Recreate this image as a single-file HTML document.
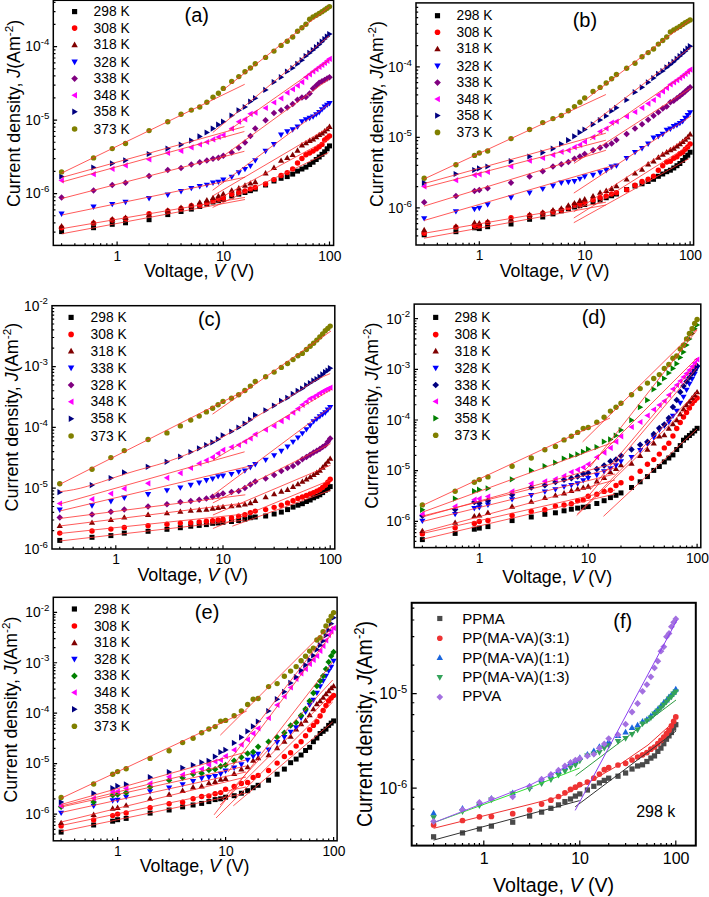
<!DOCTYPE html><html><head><meta charset="utf-8"><style>html,body{margin:0;padding:0;background:#fff;width:709px;height:897px;overflow:hidden}svg{display:block}</style></head><body>
<svg width="709" height="897" viewBox="0 0 709 897" font-family='"Liberation Sans", sans-serif' fill="#000">
<rect width="709" height="897" fill="#fff"/>
<rect x="59.09" y="229.12" width="4.97" height="4.97" fill="#000000"/>
<rect x="91.06" y="225.22" width="4.97" height="4.97" fill="#000000"/>
<rect x="109.76" y="221.82" width="4.97" height="4.97" fill="#000000"/>
<rect x="123.03" y="220.32" width="4.97" height="4.97" fill="#000000"/>
<rect x="146.59" y="217.22" width="4.97" height="4.97" fill="#000000"/>
<rect x="165.29" y="212.12" width="4.97" height="4.97" fill="#000000"/>
<rect x="178.55" y="209.02" width="4.97" height="4.97" fill="#000000"/>
<rect x="188.85" y="206.62" width="4.97" height="4.97" fill="#000000"/>
<rect x="197.26" y="204.02" width="4.97" height="4.97" fill="#000000"/>
<rect x="204.37" y="201.60" width="4.97" height="4.97" fill="#000000"/>
<rect x="210.52" y="199.52" width="4.97" height="4.97" fill="#000000"/>
<rect x="215.96" y="198.20" width="4.97" height="4.97" fill="#000000"/>
<rect x="220.82" y="197.02" width="4.97" height="4.97" fill="#000000"/>
<rect x="229.23" y="193.52" width="4.97" height="4.97" fill="#000000"/>
<rect x="236.33" y="191.64" width="4.97" height="4.97" fill="#000000"/>
<rect x="242.49" y="190.02" width="4.97" height="4.97" fill="#000000"/>
<rect x="247.93" y="188.17" width="4.97" height="4.97" fill="#000000"/>
<rect x="252.79" y="186.52" width="4.97" height="4.97" fill="#000000"/>
<rect x="263.08" y="182.52" width="4.97" height="4.97" fill="#000000"/>
<rect x="271.49" y="178.52" width="4.97" height="4.97" fill="#000000"/>
<rect x="278.60" y="175.82" width="4.97" height="4.97" fill="#000000"/>
<rect x="284.75" y="174.12" width="4.97" height="4.97" fill="#000000"/>
<rect x="290.19" y="171.62" width="4.97" height="4.97" fill="#000000"/>
<rect x="295.05" y="168.62" width="4.97" height="4.97" fill="#000000"/>
<rect x="299.44" y="166.52" width="4.97" height="4.97" fill="#000000"/>
<rect x="303.46" y="164.62" width="4.97" height="4.97" fill="#000000"/>
<rect x="307.15" y="162.07" width="4.97" height="4.97" fill="#000000"/>
<rect x="310.57" y="159.72" width="4.97" height="4.97" fill="#000000"/>
<rect x="313.75" y="157.03" width="4.97" height="4.97" fill="#000000"/>
<rect x="316.72" y="154.52" width="4.97" height="4.97" fill="#000000"/>
<rect x="319.52" y="151.84" width="4.97" height="4.97" fill="#000000"/>
<rect x="322.16" y="149.32" width="4.97" height="4.97" fill="#000000"/>
<rect x="324.65" y="146.29" width="4.97" height="4.97" fill="#000000"/>
<rect x="327.02" y="143.42" width="4.97" height="4.97" fill="#000000"/>
<circle cx="61.57" cy="227.70" r="2.70" fill="#ff0000"/>
<circle cx="93.54" cy="223.10" r="2.70" fill="#ff0000"/>
<circle cx="112.24" cy="220.00" r="2.70" fill="#ff0000"/>
<circle cx="125.51" cy="218.40" r="2.70" fill="#ff0000"/>
<circle cx="149.07" cy="213.80" r="2.70" fill="#ff0000"/>
<circle cx="167.77" cy="211.00" r="2.70" fill="#ff0000"/>
<circle cx="181.04" cy="208.40" r="2.70" fill="#ff0000"/>
<circle cx="191.33" cy="205.70" r="2.70" fill="#ff0000"/>
<circle cx="199.74" cy="205.10" r="2.70" fill="#ff0000"/>
<circle cx="206.85" cy="203.00" r="2.70" fill="#ff0000"/>
<circle cx="213.01" cy="200.90" r="2.70" fill="#ff0000"/>
<circle cx="218.44" cy="198.80" r="2.70" fill="#ff0000"/>
<circle cx="223.30" cy="198.00" r="2.70" fill="#ff0000"/>
<circle cx="231.71" cy="194.30" r="2.70" fill="#ff0000"/>
<circle cx="238.82" cy="192.40" r="2.70" fill="#ff0000"/>
<circle cx="244.98" cy="191.00" r="2.70" fill="#ff0000"/>
<circle cx="250.41" cy="188.90" r="2.70" fill="#ff0000"/>
<circle cx="255.27" cy="187.50" r="2.70" fill="#ff0000"/>
<circle cx="265.56" cy="184.00" r="2.70" fill="#ff0000"/>
<circle cx="273.97" cy="179.60" r="2.70" fill="#ff0000"/>
<circle cx="281.08" cy="175.50" r="2.70" fill="#ff0000"/>
<circle cx="287.24" cy="172.60" r="2.70" fill="#ff0000"/>
<circle cx="292.67" cy="168.90" r="2.70" fill="#ff0000"/>
<circle cx="297.53" cy="163.00" r="2.70" fill="#ff0000"/>
<circle cx="301.93" cy="158.50" r="2.70" fill="#ff0000"/>
<circle cx="305.94" cy="154.80" r="2.70" fill="#ff0000"/>
<circle cx="309.63" cy="153.00" r="2.70" fill="#ff0000"/>
<circle cx="313.05" cy="151.10" r="2.70" fill="#ff0000"/>
<circle cx="316.23" cy="148.90" r="2.70" fill="#ff0000"/>
<circle cx="319.21" cy="146.70" r="2.70" fill="#ff0000"/>
<circle cx="322.00" cy="144.40" r="2.70" fill="#ff0000"/>
<circle cx="324.64" cy="140.00" r="2.70" fill="#ff0000"/>
<circle cx="327.13" cy="138.00" r="2.70" fill="#ff0000"/>
<circle cx="329.50" cy="136.00" r="2.70" fill="#ff0000"/>
<path d="M61.57 223.09L64.68 228.49H58.47Z" fill="#800000"/>
<path d="M93.54 219.20L96.64 224.59H90.43Z" fill="#800000"/>
<path d="M112.24 216.09L115.35 221.49H109.14Z" fill="#800000"/>
<path d="M125.51 214.59L128.61 219.99H122.40Z" fill="#800000"/>
<path d="M149.07 211.50L152.17 216.89H145.96Z" fill="#800000"/>
<path d="M167.77 207.30L170.88 212.69H164.67Z" fill="#800000"/>
<path d="M181.04 204.50L184.14 209.89H177.93Z" fill="#800000"/>
<path d="M191.33 202.20L194.44 207.59H188.23Z" fill="#800000"/>
<path d="M199.74 199.20L202.84 204.59H196.63Z" fill="#800000"/>
<path d="M206.85 197.09L209.95 202.49H203.74Z" fill="#800000"/>
<path d="M213.01 194.70L216.11 200.09H209.90Z" fill="#800000"/>
<path d="M218.44 192.90L221.55 198.29H215.34Z" fill="#800000"/>
<path d="M223.30 190.80L226.41 196.19H220.20Z" fill="#800000"/>
<path d="M231.71 187.20L234.81 192.59H228.60Z" fill="#800000"/>
<path d="M238.82 185.09L241.92 190.49H235.71Z" fill="#800000"/>
<path d="M244.98 182.30L248.08 187.69H241.87Z" fill="#800000"/>
<path d="M250.41 180.20L253.51 185.59H247.30Z" fill="#800000"/>
<path d="M255.27 178.80L258.37 184.19H252.16Z" fill="#800000"/>
<path d="M265.56 170.09L268.67 175.49H262.46Z" fill="#800000"/>
<path d="M273.97 164.50L277.08 169.89H270.87Z" fill="#800000"/>
<path d="M281.08 157.40L284.19 162.79H277.98Z" fill="#800000"/>
<path d="M287.24 154.70L290.34 160.09H284.13Z" fill="#800000"/>
<path d="M292.67 151.70L295.78 157.09H289.57Z" fill="#800000"/>
<path d="M297.53 147.30L300.64 152.69H294.43Z" fill="#800000"/>
<path d="M301.93 142.09L305.03 147.49H298.82Z" fill="#800000"/>
<path d="M305.94 139.90L309.04 145.29H302.83Z" fill="#800000"/>
<path d="M309.63 137.59L312.74 142.99H306.53Z" fill="#800000"/>
<path d="M313.05 136.20L316.15 141.59H309.94Z" fill="#800000"/>
<path d="M316.23 133.90L319.34 139.29H313.13Z" fill="#800000"/>
<path d="M319.21 131.70L322.31 137.09H316.10Z" fill="#800000"/>
<path d="M322.00 130.20L325.11 135.59H318.90Z" fill="#800000"/>
<path d="M324.64 127.99L327.75 133.39H321.54Z" fill="#800000"/>
<path d="M327.13 125.89L330.24 131.29H324.03Z" fill="#800000"/>
<path d="M329.50 123.59L332.61 129.00H326.39Z" fill="#800000"/>
<path d="M61.57 216.91L64.68 211.51H58.47Z" fill="#0000ff"/>
<path d="M93.54 209.91L96.64 204.51H90.43Z" fill="#0000ff"/>
<path d="M112.24 207.30L115.35 201.91H109.14Z" fill="#0000ff"/>
<path d="M125.51 205.20L128.61 199.81H122.40Z" fill="#0000ff"/>
<path d="M149.07 201.41L152.17 196.01H145.96Z" fill="#0000ff"/>
<path d="M167.77 198.00L170.88 192.61H164.67Z" fill="#0000ff"/>
<path d="M181.04 194.41L184.14 189.01H177.93Z" fill="#0000ff"/>
<path d="M191.33 191.30L194.44 185.91H188.23Z" fill="#0000ff"/>
<path d="M199.74 189.41L202.84 184.01H196.63Z" fill="#0000ff"/>
<path d="M206.85 188.10L209.95 182.71H203.74Z" fill="#0000ff"/>
<path d="M213.01 185.91L216.11 180.51H209.90Z" fill="#0000ff"/>
<path d="M218.44 185.10L221.55 179.71H215.34Z" fill="#0000ff"/>
<path d="M223.30 182.91L226.41 177.51H220.20Z" fill="#0000ff"/>
<path d="M231.71 180.10L234.81 174.71H228.60Z" fill="#0000ff"/>
<path d="M238.82 175.70L241.92 170.31H235.71Z" fill="#0000ff"/>
<path d="M244.98 172.30L248.08 166.91H241.87Z" fill="#0000ff"/>
<path d="M250.41 169.10L253.51 163.71H247.30Z" fill="#0000ff"/>
<path d="M255.27 163.60L258.37 158.21H252.16Z" fill="#0000ff"/>
<path d="M265.56 154.20L268.67 148.81H262.46Z" fill="#0000ff"/>
<path d="M273.97 147.50L277.08 142.11H270.87Z" fill="#0000ff"/>
<path d="M281.08 137.91L284.19 132.51H277.98Z" fill="#0000ff"/>
<path d="M287.24 134.70L290.34 129.31H284.13Z" fill="#0000ff"/>
<path d="M292.67 132.70L295.78 127.30H289.57Z" fill="#0000ff"/>
<path d="M297.53 129.81L300.64 124.41H294.43Z" fill="#0000ff"/>
<path d="M301.93 124.61L305.03 119.20H298.82Z" fill="#0000ff"/>
<path d="M305.94 122.61L309.04 117.20H302.83Z" fill="#0000ff"/>
<path d="M309.63 121.15L312.74 115.75H306.53Z" fill="#0000ff"/>
<path d="M313.05 119.81L316.15 114.41H309.94Z" fill="#0000ff"/>
<path d="M316.23 117.58L319.34 112.18H313.13Z" fill="#0000ff"/>
<path d="M319.21 115.51L322.31 110.11H316.10Z" fill="#0000ff"/>
<path d="M322.00 112.62L325.11 107.22H318.90Z" fill="#0000ff"/>
<path d="M324.64 109.91L327.75 104.50H321.54Z" fill="#0000ff"/>
<path d="M327.13 108.11L330.24 102.71H324.03Z" fill="#0000ff"/>
<path d="M329.50 106.41L332.61 101.00H326.39Z" fill="#0000ff"/>
<path d="M61.57 194.26L64.81 197.50L61.57 200.74L58.33 197.50Z" fill="#800080"/>
<path d="M93.54 187.26L96.78 190.50L93.54 193.74L90.30 190.50Z" fill="#800080"/>
<path d="M112.24 181.86L115.48 185.10L112.24 188.34L109.00 185.10Z" fill="#800080"/>
<path d="M125.51 179.56L128.75 182.80L125.51 186.04L122.27 182.80Z" fill="#800080"/>
<path d="M149.07 172.86L152.31 176.10L149.07 179.34L145.83 176.10Z" fill="#800080"/>
<path d="M167.77 166.76L171.01 170.00L167.77 173.24L164.53 170.00Z" fill="#800080"/>
<path d="M181.04 164.76L184.28 168.00L181.04 171.24L177.80 168.00Z" fill="#800080"/>
<path d="M191.33 161.16L194.57 164.40L191.33 167.64L188.09 164.40Z" fill="#800080"/>
<path d="M199.74 159.06L202.98 162.30L199.74 165.54L196.50 162.30Z" fill="#800080"/>
<path d="M206.85 157.36L210.09 160.60L206.85 163.84L203.61 160.60Z" fill="#800080"/>
<path d="M213.01 155.56L216.25 158.80L213.01 162.04L209.77 158.80Z" fill="#800080"/>
<path d="M218.44 154.46L221.68 157.70L218.44 160.94L215.20 157.70Z" fill="#800080"/>
<path d="M223.30 152.56L226.54 155.80L223.30 159.04L220.06 155.80Z" fill="#800080"/>
<path d="M231.71 149.16L234.95 152.40L231.71 155.64L228.47 152.40Z" fill="#800080"/>
<path d="M238.82 144.56L242.06 147.80L238.82 151.04L235.58 147.80Z" fill="#800080"/>
<path d="M244.98 139.36L248.22 142.60L244.98 145.84L241.74 142.60Z" fill="#800080"/>
<path d="M250.41 132.76L253.65 136.00L250.41 139.24L247.17 136.00Z" fill="#800080"/>
<path d="M255.27 125.26L258.51 128.50L255.27 131.74L252.03 128.50Z" fill="#800080"/>
<path d="M265.56 117.06L268.80 120.30L265.56 123.54L262.32 120.30Z" fill="#800080"/>
<path d="M273.97 109.86L277.21 113.10L273.97 116.34L270.73 113.10Z" fill="#800080"/>
<path d="M281.08 107.06L284.32 110.30L281.08 113.54L277.84 110.30Z" fill="#800080"/>
<path d="M287.24 104.26L290.48 107.50L287.24 110.74L284.00 107.50Z" fill="#800080"/>
<path d="M292.67 100.76L295.91 104.00L292.67 107.24L289.43 104.00Z" fill="#800080"/>
<path d="M297.53 96.46L300.77 99.70L297.53 102.94L294.29 99.70Z" fill="#800080"/>
<path d="M301.93 94.36L305.17 97.60L301.93 100.84L298.69 97.60Z" fill="#800080"/>
<path d="M305.94 93.76L309.18 97.00L305.94 100.24L302.70 97.00Z" fill="#800080"/>
<path d="M309.63 90.16L312.87 93.40L309.63 96.64L306.39 93.40Z" fill="#800080"/>
<path d="M313.05 85.16L316.29 88.40L313.05 91.64L309.81 88.40Z" fill="#800080"/>
<path d="M316.23 82.27L319.47 85.51L316.23 88.75L312.99 85.51Z" fill="#800080"/>
<path d="M319.21 79.56L322.45 82.80L319.21 86.04L315.97 82.80Z" fill="#800080"/>
<path d="M322.00 78.12L325.24 81.36L322.00 84.60L318.76 81.36Z" fill="#800080"/>
<path d="M324.64 76.76L327.88 80.00L324.64 83.24L321.40 80.00Z" fill="#800080"/>
<path d="M327.13 75.32L330.37 78.56L327.13 81.80L323.89 78.56Z" fill="#800080"/>
<path d="M329.50 73.96L332.74 77.20L329.50 80.44L326.26 77.20Z" fill="#800080"/>
<path d="M58.47 180.40L63.87 177.30V183.50Z" fill="#ff00ff"/>
<path d="M90.43 174.20L95.83 171.09V177.30Z" fill="#ff00ff"/>
<path d="M109.14 168.80L114.54 165.70V171.91Z" fill="#ff00ff"/>
<path d="M122.40 165.40L127.80 162.30V168.50Z" fill="#ff00ff"/>
<path d="M145.96 159.50L151.36 156.40V162.60Z" fill="#ff00ff"/>
<path d="M164.67 153.00L170.07 149.90V156.10Z" fill="#ff00ff"/>
<path d="M177.93 151.00L183.33 147.90V154.10Z" fill="#ff00ff"/>
<path d="M188.23 147.40L193.63 144.30V150.50Z" fill="#ff00ff"/>
<path d="M196.63 144.50L202.03 141.40V147.60Z" fill="#ff00ff"/>
<path d="M203.74 142.00L209.14 138.90V145.10Z" fill="#ff00ff"/>
<path d="M209.90 139.40L215.30 136.30V142.50Z" fill="#ff00ff"/>
<path d="M215.34 137.00L220.74 133.90V140.10Z" fill="#ff00ff"/>
<path d="M220.20 135.00L225.59 131.90V138.10Z" fill="#ff00ff"/>
<path d="M228.60 128.60L234.00 125.49V131.70Z" fill="#ff00ff"/>
<path d="M235.71 121.70L241.11 118.59V124.81Z" fill="#ff00ff"/>
<path d="M241.87 119.30L247.27 116.19V122.41Z" fill="#ff00ff"/>
<path d="M247.30 113.80L252.70 110.69V116.91Z" fill="#ff00ff"/>
<path d="M252.16 112.60L257.56 109.49V115.70Z" fill="#ff00ff"/>
<path d="M262.46 108.00L267.86 104.89V111.11Z" fill="#ff00ff"/>
<path d="M270.87 102.50L276.27 99.39V105.61Z" fill="#ff00ff"/>
<path d="M277.98 98.30L283.38 95.19V101.41Z" fill="#ff00ff"/>
<path d="M284.13 92.70L289.53 89.59V95.81Z" fill="#ff00ff"/>
<path d="M289.57 89.20L294.97 86.09V92.31Z" fill="#ff00ff"/>
<path d="M294.43 85.60L299.83 82.49V88.70Z" fill="#ff00ff"/>
<path d="M298.82 82.10L304.22 78.99V85.20Z" fill="#ff00ff"/>
<path d="M302.83 77.20L308.23 74.09V80.31Z" fill="#ff00ff"/>
<path d="M306.53 74.30L311.93 71.19V77.41Z" fill="#ff00ff"/>
<path d="M309.94 71.50L315.34 68.39V74.61Z" fill="#ff00ff"/>
<path d="M313.13 69.17L318.53 66.07V72.28Z" fill="#ff00ff"/>
<path d="M316.10 67.00L321.50 63.90V70.11Z" fill="#ff00ff"/>
<path d="M318.90 64.94L324.30 61.84V68.05Z" fill="#ff00ff"/>
<path d="M321.54 63.00L326.94 59.90V66.11Z" fill="#ff00ff"/>
<path d="M324.03 60.84L329.43 57.74V63.95Z" fill="#ff00ff"/>
<path d="M326.39 58.80L331.80 55.70V61.90Z" fill="#ff00ff"/>
<path d="M64.68 176.50L59.28 173.40V179.60Z" fill="#000080"/>
<path d="M96.64 167.50L91.24 164.40V170.60Z" fill="#000080"/>
<path d="M115.35 163.40L109.95 160.30V166.50Z" fill="#000080"/>
<path d="M128.61 160.30L123.21 157.20V163.41Z" fill="#000080"/>
<path d="M152.17 154.00L146.77 150.90V157.10Z" fill="#000080"/>
<path d="M170.88 148.60L165.48 145.50V151.70Z" fill="#000080"/>
<path d="M184.14 144.70L178.74 141.59V147.80Z" fill="#000080"/>
<path d="M194.44 140.60L189.04 137.50V143.70Z" fill="#000080"/>
<path d="M202.84 136.40L197.44 133.30V139.50Z" fill="#000080"/>
<path d="M209.95 132.50L204.55 129.40V135.60Z" fill="#000080"/>
<path d="M216.11 128.60L210.71 125.49V131.70Z" fill="#000080"/>
<path d="M221.55 124.70L216.15 121.59V127.81Z" fill="#000080"/>
<path d="M226.41 121.70L221.01 118.59V124.81Z" fill="#000080"/>
<path d="M234.81 115.50L229.41 112.39V118.61Z" fill="#000080"/>
<path d="M241.92 110.30L236.52 107.19V113.41Z" fill="#000080"/>
<path d="M248.08 107.00L242.68 103.89V110.11Z" fill="#000080"/>
<path d="M253.51 101.60L248.11 98.49V104.70Z" fill="#000080"/>
<path d="M258.37 98.20L252.97 95.09V101.31Z" fill="#000080"/>
<path d="M268.67 89.90L263.27 86.80V93.01Z" fill="#000080"/>
<path d="M277.08 82.10L271.68 78.99V85.20Z" fill="#000080"/>
<path d="M284.19 77.20L278.79 74.09V80.31Z" fill="#000080"/>
<path d="M290.34 71.50L284.94 68.39V74.61Z" fill="#000080"/>
<path d="M295.78 68.00L290.38 64.89V71.11Z" fill="#000080"/>
<path d="M300.64 63.80L295.24 60.70V66.91Z" fill="#000080"/>
<path d="M305.03 60.20L299.63 57.10V63.30Z" fill="#000080"/>
<path d="M309.04 56.00L303.64 52.90V59.10Z" fill="#000080"/>
<path d="M312.74 52.88L307.34 49.78V55.99Z" fill="#000080"/>
<path d="M316.15 50.00L310.75 46.90V53.10Z" fill="#000080"/>
<path d="M319.34 47.16L313.94 44.05V50.26Z" fill="#000080"/>
<path d="M322.31 44.50L316.91 41.40V47.60Z" fill="#000080"/>
<path d="M325.11 41.67L319.71 38.56V44.77Z" fill="#000080"/>
<path d="M327.75 39.00L322.35 35.90V42.10Z" fill="#000080"/>
<path d="M330.24 36.49L324.84 33.38V39.59Z" fill="#000080"/>
<path d="M332.61 34.10L327.20 31.00V37.20Z" fill="#000080"/>
<circle cx="61.57" cy="171.90" r="2.70" fill="#808000"/>
<circle cx="93.54" cy="157.90" r="2.70" fill="#808000"/>
<circle cx="112.24" cy="148.60" r="2.70" fill="#808000"/>
<circle cx="125.51" cy="143.50" r="2.70" fill="#808000"/>
<circle cx="149.07" cy="130.60" r="2.70" fill="#808000"/>
<circle cx="167.77" cy="121.70" r="2.70" fill="#808000"/>
<circle cx="181.04" cy="114.30" r="2.70" fill="#808000"/>
<circle cx="191.33" cy="110.10" r="2.70" fill="#808000"/>
<circle cx="199.74" cy="107.00" r="2.70" fill="#808000"/>
<circle cx="206.85" cy="102.20" r="2.70" fill="#808000"/>
<circle cx="213.01" cy="97.20" r="2.70" fill="#808000"/>
<circle cx="218.44" cy="93.30" r="2.70" fill="#808000"/>
<circle cx="223.30" cy="88.40" r="2.70" fill="#808000"/>
<circle cx="231.71" cy="81.40" r="2.70" fill="#808000"/>
<circle cx="238.82" cy="76.60" r="2.70" fill="#808000"/>
<circle cx="244.98" cy="71.80" r="2.70" fill="#808000"/>
<circle cx="250.41" cy="68.00" r="2.70" fill="#808000"/>
<circle cx="255.27" cy="63.80" r="2.70" fill="#808000"/>
<circle cx="265.56" cy="57.40" r="2.70" fill="#808000"/>
<circle cx="273.97" cy="51.10" r="2.70" fill="#808000"/>
<circle cx="281.08" cy="45.40" r="2.70" fill="#808000"/>
<circle cx="287.24" cy="41.20" r="2.70" fill="#808000"/>
<circle cx="292.67" cy="37.00" r="2.70" fill="#808000"/>
<circle cx="297.53" cy="31.30" r="2.70" fill="#808000"/>
<circle cx="301.93" cy="27.80" r="2.70" fill="#808000"/>
<circle cx="305.94" cy="24.30" r="2.70" fill="#808000"/>
<circle cx="309.63" cy="19.30" r="2.70" fill="#808000"/>
<circle cx="313.05" cy="17.00" r="2.70" fill="#808000"/>
<circle cx="316.23" cy="15.19" r="2.70" fill="#808000"/>
<circle cx="319.21" cy="13.50" r="2.70" fill="#808000"/>
<circle cx="322.00" cy="11.70" r="2.70" fill="#808000"/>
<circle cx="324.64" cy="10.00" r="2.70" fill="#808000"/>
<circle cx="327.13" cy="8.26" r="2.70" fill="#808000"/>
<circle cx="329.50" cy="6.60" r="2.70" fill="#808000"/>
<line x1="61.8" y1="173" x2="244.7" y2="84.3" stroke="#ff3030" stroke-width="0.8"/>
<line x1="61.8" y1="177.5" x2="244.4" y2="126.6" stroke="#ff3030" stroke-width="0.8"/>
<line x1="61.8" y1="182" x2="244.4" y2="131.5" stroke="#ff3030" stroke-width="0.8"/>
<line x1="61.8" y1="198.5" x2="244.4" y2="151.3" stroke="#ff3030" stroke-width="0.8"/>
<line x1="61.8" y1="215" x2="245.1" y2="177.2" stroke="#ff3030" stroke-width="0.8"/>
<line x1="61.8" y1="228.7" x2="245" y2="197.4" stroke="#ff3030" stroke-width="0.8"/>
<line x1="61.8" y1="233.8" x2="245" y2="199.5" stroke="#ff3030" stroke-width="0.8"/>
<line x1="212.6" y1="207.5" x2="328.5" y2="152.6" stroke="#ff3030" stroke-width="0.8"/>
<line x1="212.6" y1="202" x2="329" y2="139" stroke="#ff3030" stroke-width="0.8"/>
<line x1="212.6" y1="196" x2="329" y2="127.5" stroke="#ff3030" stroke-width="0.8"/>
<line x1="212.6" y1="190.3" x2="329" y2="104" stroke="#ff3030" stroke-width="0.8"/>
<line x1="217.7" y1="160.2" x2="329" y2="79" stroke="#ff3030" stroke-width="0.8"/>
<line x1="228.6" y1="130.5" x2="329" y2="60" stroke="#ff3030" stroke-width="0.8"/>
<line x1="212.8" y1="132.5" x2="329" y2="36" stroke="#ff3030" stroke-width="0.8"/>
<line x1="223" y1="90" x2="329" y2="7" stroke="#ff3030" stroke-width="0.8"/>
<rect x="53.30" y="0.30" width="280.30" height="245.10" fill="none" stroke="#000" stroke-width="1.5"/>
<path d="M61.57 245.40v-2.20M74.84 245.40v-2.20M85.13 245.40v-2.20M93.54 245.40v-2.20M100.65 245.40v-2.20M106.81 245.40v-2.20M112.24 245.40v-2.20M117.10 245.40v-3.80M149.07 245.40v-2.20M167.77 245.40v-2.20M181.04 245.40v-2.20M191.33 245.40v-2.20M199.74 245.40v-2.20M206.85 245.40v-2.20M213.01 245.40v-2.20M218.44 245.40v-2.20M223.30 245.40v-3.80M255.27 245.40v-2.20M273.97 245.40v-2.20M287.24 245.40v-2.20M297.53 245.40v-2.20M305.94 245.40v-2.20M313.05 245.40v-2.20M319.21 245.40v-2.20M324.64 245.40v-2.20M329.50 245.40v-3.80M53.30 232.03h2.20M53.30 222.85h2.20M53.30 215.73h2.20M53.30 209.91h2.20M53.30 204.99h2.20M53.30 200.72h2.20M53.30 196.96h2.20M53.30 193.60h3.80M53.30 171.47h2.20M53.30 158.53h2.20M53.30 149.35h2.20M53.30 142.23h2.20M53.30 136.41h2.20M53.30 131.49h2.20M53.30 127.22h2.20M53.30 123.46h2.20M53.30 120.10h3.80M53.30 97.97h2.20M53.30 85.03h2.20M53.30 75.85h2.20M53.30 68.73h2.20M53.30 62.91h2.20M53.30 57.99h2.20M53.30 53.72h2.20M53.30 49.96h2.20M53.30 46.60h3.80M53.30 24.47h2.20M53.30 11.53h2.20M53.30 2.35h2.20" stroke="#000" stroke-width="1.2" fill="none"/>
<text x="117.40" y="260.50" font-size="13.8" text-anchor="middle">1</text>
<text x="223.60" y="260.50" font-size="13.8" text-anchor="middle">10</text>
<text x="329.80" y="260.50" font-size="13.8" text-anchor="middle">100</text>
<text x="40.70" y="51.40" font-size="13.8" text-anchor="end">10</text>
<text x="40.70" y="45.30" font-size="9.7">-4</text>
<text x="40.70" y="124.90" font-size="13.8" text-anchor="end">10</text>
<text x="40.70" y="118.80" font-size="9.7">-5</text>
<text x="40.70" y="198.40" font-size="13.8" text-anchor="end">10</text>
<text x="40.70" y="192.30" font-size="9.7">-6</text>
<text x="143.90" y="277" font-size="18.5" textLength="110.20" lengthAdjust="spacingAndGlyphs">Voltage, <tspan font-style="italic">V</tspan> (V)</text>
<text transform="translate(20.3,207.00) rotate(-90)" font-size="17.95" textLength="187.20" lengthAdjust="spacingAndGlyphs">Current density, <tspan font-style="italic">J</tspan>(Am<tspan font-size="11.8" dy="-6.82">-2</tspan><tspan dy="6.82">)</tspan></text>
<text x="196.7" y="22.4" font-size="20" text-anchor="middle">(a)</text>
<rect x="72.02" y="9.02" width="5.15" height="5.15" fill="#000000"/>
<text x="93.60" y="16.10" font-size="13.8">298 K</text>
<circle cx="74.60" cy="28.10" r="2.80" fill="#ff0000"/>
<text x="93.60" y="32.60" font-size="13.8">308 K</text>
<path d="M74.60 41.58L77.82 47.18H71.38Z" fill="#800000"/>
<text x="93.60" y="49.30" font-size="13.8">318 K</text>
<path d="M74.60 65.22L77.82 59.62H71.38Z" fill="#0000ff"/>
<text x="93.60" y="66.50" font-size="13.8">328 K</text>
<path d="M74.60 75.24L77.96 78.60L74.60 81.96L71.24 78.60Z" fill="#800080"/>
<text x="93.60" y="83.10" font-size="13.8">338 K</text>
<path d="M71.38 95.20L76.98 91.98V98.42Z" fill="#ff00ff"/>
<text x="93.60" y="99.70" font-size="13.8">348 K</text>
<path d="M77.82 111.80L72.22 108.58V115.02Z" fill="#000080"/>
<text x="93.60" y="116.30" font-size="13.8">358 K</text>
<circle cx="74.60" cy="129.00" r="2.80" fill="#808000"/>
<text x="93.60" y="133.50" font-size="13.8">373 K</text>
<rect x="421.70" y="232.32" width="4.97" height="4.97" fill="#000000"/>
<rect x="453.43" y="229.22" width="4.97" height="4.97" fill="#000000"/>
<rect x="471.99" y="225.32" width="4.97" height="4.97" fill="#000000"/>
<rect x="476.82" y="226.12" width="4.97" height="4.97" fill="#000000"/>
<rect x="485.16" y="224.22" width="4.97" height="4.97" fill="#000000"/>
<rect x="508.54" y="221.52" width="4.97" height="4.97" fill="#000000"/>
<rect x="527.10" y="216.82" width="4.97" height="4.97" fill="#000000"/>
<rect x="540.27" y="214.52" width="4.97" height="4.97" fill="#000000"/>
<rect x="550.49" y="211.42" width="4.97" height="4.97" fill="#000000"/>
<rect x="558.83" y="208.32" width="4.97" height="4.97" fill="#000000"/>
<rect x="565.89" y="206.28" width="4.97" height="4.97" fill="#000000"/>
<rect x="572.00" y="204.52" width="4.97" height="4.97" fill="#000000"/>
<rect x="577.39" y="203.20" width="4.97" height="4.97" fill="#000000"/>
<rect x="582.22" y="202.02" width="4.97" height="4.97" fill="#000000"/>
<rect x="590.56" y="199.58" width="4.97" height="4.97" fill="#000000"/>
<rect x="597.62" y="197.52" width="4.97" height="4.97" fill="#000000"/>
<rect x="603.73" y="195.27" width="4.97" height="4.97" fill="#000000"/>
<rect x="609.12" y="193.29" width="4.97" height="4.97" fill="#000000"/>
<rect x="613.94" y="191.52" width="4.97" height="4.97" fill="#000000"/>
<rect x="624.16" y="187.02" width="4.97" height="4.97" fill="#000000"/>
<rect x="632.50" y="183.52" width="4.97" height="4.97" fill="#000000"/>
<rect x="639.56" y="181.32" width="4.97" height="4.97" fill="#000000"/>
<rect x="645.67" y="179.02" width="4.97" height="4.97" fill="#000000"/>
<rect x="651.06" y="176.82" width="4.97" height="4.97" fill="#000000"/>
<rect x="655.89" y="173.82" width="4.97" height="4.97" fill="#000000"/>
<rect x="660.25" y="171.52" width="4.97" height="4.97" fill="#000000"/>
<rect x="664.23" y="169.22" width="4.97" height="4.97" fill="#000000"/>
<rect x="667.90" y="167.72" width="4.97" height="4.97" fill="#000000"/>
<rect x="671.29" y="165.52" width="4.97" height="4.97" fill="#000000"/>
<rect x="674.45" y="163.22" width="4.97" height="4.97" fill="#000000"/>
<rect x="677.40" y="161.02" width="4.97" height="4.97" fill="#000000"/>
<rect x="680.18" y="158.02" width="4.97" height="4.97" fill="#000000"/>
<rect x="682.79" y="154.92" width="4.97" height="4.97" fill="#000000"/>
<rect x="685.27" y="152.72" width="4.97" height="4.97" fill="#000000"/>
<rect x="687.62" y="149.72" width="4.97" height="4.97" fill="#000000"/>
<circle cx="424.19" cy="233.30" r="2.70" fill="#ff0000"/>
<circle cx="455.92" cy="227.10" r="2.70" fill="#ff0000"/>
<circle cx="474.48" cy="225.50" r="2.70" fill="#ff0000"/>
<circle cx="479.30" cy="225.50" r="2.70" fill="#ff0000"/>
<circle cx="487.65" cy="222.40" r="2.70" fill="#ff0000"/>
<circle cx="511.03" cy="217.80" r="2.70" fill="#ff0000"/>
<circle cx="529.59" cy="215.40" r="2.70" fill="#ff0000"/>
<circle cx="542.76" cy="213.10" r="2.70" fill="#ff0000"/>
<circle cx="552.97" cy="211.50" r="2.70" fill="#ff0000"/>
<circle cx="561.32" cy="210.00" r="2.70" fill="#ff0000"/>
<circle cx="568.37" cy="207.70" r="2.70" fill="#ff0000"/>
<circle cx="574.49" cy="204.60" r="2.70" fill="#ff0000"/>
<circle cx="579.88" cy="203.80" r="2.70" fill="#ff0000"/>
<circle cx="584.70" cy="202.20" r="2.70" fill="#ff0000"/>
<circle cx="593.05" cy="199.90" r="2.70" fill="#ff0000"/>
<circle cx="600.10" cy="197.50" r="2.70" fill="#ff0000"/>
<circle cx="606.21" cy="196.00" r="2.70" fill="#ff0000"/>
<circle cx="611.61" cy="194.00" r="2.70" fill="#ff0000"/>
<circle cx="616.43" cy="192.80" r="2.70" fill="#ff0000"/>
<circle cx="626.64" cy="189.80" r="2.70" fill="#ff0000"/>
<circle cx="634.99" cy="185.30" r="2.70" fill="#ff0000"/>
<circle cx="642.04" cy="181.50" r="2.70" fill="#ff0000"/>
<circle cx="648.16" cy="179.30" r="2.70" fill="#ff0000"/>
<circle cx="653.55" cy="176.30" r="2.70" fill="#ff0000"/>
<circle cx="658.37" cy="170.20" r="2.70" fill="#ff0000"/>
<circle cx="662.73" cy="165.70" r="2.70" fill="#ff0000"/>
<circle cx="666.72" cy="162.00" r="2.70" fill="#ff0000"/>
<circle cx="670.38" cy="161.20" r="2.70" fill="#ff0000"/>
<circle cx="673.77" cy="158.20" r="2.70" fill="#ff0000"/>
<circle cx="676.93" cy="156.70" r="2.70" fill="#ff0000"/>
<circle cx="679.89" cy="153.70" r="2.70" fill="#ff0000"/>
<circle cx="682.66" cy="152.20" r="2.70" fill="#ff0000"/>
<circle cx="685.28" cy="149.20" r="2.70" fill="#ff0000"/>
<circle cx="687.75" cy="146.90" r="2.70" fill="#ff0000"/>
<circle cx="690.10" cy="143.90" r="2.70" fill="#ff0000"/>
<path d="M424.19 226.80L427.29 232.19H421.08Z" fill="#800000"/>
<path d="M455.92 223.20L459.02 228.59H452.81Z" fill="#800000"/>
<path d="M474.48 219.59L477.58 224.99H471.37Z" fill="#800000"/>
<path d="M479.30 220.09L482.41 225.49H476.19Z" fill="#800000"/>
<path d="M487.65 218.50L490.75 223.89H484.54Z" fill="#800000"/>
<path d="M511.03 216.20L514.13 221.59H507.92Z" fill="#800000"/>
<path d="M529.59 211.50L532.69 216.89H526.48Z" fill="#800000"/>
<path d="M542.76 209.20L545.86 214.59H539.65Z" fill="#800000"/>
<path d="M552.97 206.90L556.08 212.29H549.87Z" fill="#800000"/>
<path d="M561.32 205.30L564.42 210.69H558.21Z" fill="#800000"/>
<path d="M568.37 202.20L571.48 207.59H565.27Z" fill="#800000"/>
<path d="M574.49 199.90L577.59 205.29H571.38Z" fill="#800000"/>
<path d="M579.88 197.59L582.98 202.99H576.77Z" fill="#800000"/>
<path d="M584.70 196.00L587.81 201.39H581.60Z" fill="#800000"/>
<path d="M593.05 192.90L596.15 198.29H589.94Z" fill="#800000"/>
<path d="M600.10 189.40L603.21 194.79H597.00Z" fill="#800000"/>
<path d="M606.21 187.50L609.32 192.89H603.11Z" fill="#800000"/>
<path d="M611.61 185.59L614.71 190.99H608.50Z" fill="#800000"/>
<path d="M616.43 182.90L619.53 188.29H613.32Z" fill="#800000"/>
<path d="M626.64 176.20L629.75 181.59H623.54Z" fill="#800000"/>
<path d="M634.99 170.20L638.09 175.59H631.88Z" fill="#800000"/>
<path d="M642.04 166.40L645.15 171.79H638.94Z" fill="#800000"/>
<path d="M648.16 161.09L651.26 166.49H645.05Z" fill="#800000"/>
<path d="M653.55 158.09L656.65 163.49H650.44Z" fill="#800000"/>
<path d="M658.37 154.30L661.48 159.69H655.27Z" fill="#800000"/>
<path d="M662.73 151.30L665.84 156.69H659.63Z" fill="#800000"/>
<path d="M666.72 149.09L669.82 154.49H663.61Z" fill="#800000"/>
<path d="M670.38 146.80L673.49 152.19H667.28Z" fill="#800000"/>
<path d="M673.77 145.30L676.88 150.69H670.67Z" fill="#800000"/>
<path d="M676.93 143.00L680.04 148.39H673.83Z" fill="#800000"/>
<path d="M679.89 140.80L682.99 146.19H676.78Z" fill="#800000"/>
<path d="M682.66 138.50L685.77 143.89H679.56Z" fill="#800000"/>
<path d="M685.28 136.30L688.38 141.69H682.17Z" fill="#800000"/>
<path d="M687.75 134.00L690.86 139.39H684.65Z" fill="#800000"/>
<path d="M690.10 131.00L693.21 136.39H687.00Z" fill="#800000"/>
<path d="M424.19 221.60L427.29 216.21H421.08Z" fill="#0000ff"/>
<path d="M455.92 214.60L459.02 209.21H452.81Z" fill="#0000ff"/>
<path d="M474.48 212.30L477.58 206.91H471.37Z" fill="#0000ff"/>
<path d="M479.30 211.20L482.41 205.81H476.19Z" fill="#0000ff"/>
<path d="M487.65 207.70L490.75 202.31H484.54Z" fill="#0000ff"/>
<path d="M511.03 200.70L514.13 195.31H507.92Z" fill="#0000ff"/>
<path d="M529.59 196.00L532.69 190.61H526.48Z" fill="#0000ff"/>
<path d="M542.76 192.10L545.86 186.71H539.65Z" fill="#0000ff"/>
<path d="M552.97 189.00L556.08 183.61H549.87Z" fill="#0000ff"/>
<path d="M561.32 185.91L564.42 180.51H558.21Z" fill="#0000ff"/>
<path d="M568.37 185.20L571.48 179.81H565.27Z" fill="#0000ff"/>
<path d="M574.49 184.41L577.59 179.01H571.38Z" fill="#0000ff"/>
<path d="M579.88 182.10L582.98 176.71H576.77Z" fill="#0000ff"/>
<path d="M584.70 179.70L587.81 174.31H581.60Z" fill="#0000ff"/>
<path d="M593.05 178.20L596.15 172.81H589.94Z" fill="#0000ff"/>
<path d="M600.10 175.70L603.21 170.31H597.00Z" fill="#0000ff"/>
<path d="M606.21 173.41L609.32 168.01H603.11Z" fill="#0000ff"/>
<path d="M611.61 169.91L614.71 164.51H608.50Z" fill="#0000ff"/>
<path d="M616.43 168.80L619.53 163.41H613.32Z" fill="#0000ff"/>
<path d="M626.64 161.30L629.75 155.91H623.54Z" fill="#0000ff"/>
<path d="M634.99 155.30L638.09 149.91H631.88Z" fill="#0000ff"/>
<path d="M642.04 151.50L645.15 146.11H638.94Z" fill="#0000ff"/>
<path d="M648.16 147.00L651.26 141.61H645.05Z" fill="#0000ff"/>
<path d="M653.55 141.00L656.65 135.61H650.44Z" fill="#0000ff"/>
<path d="M658.37 139.50L661.48 134.11H655.27Z" fill="#0000ff"/>
<path d="M662.73 137.20L665.84 131.81H659.63Z" fill="#0000ff"/>
<path d="M666.72 133.10L669.82 127.70H663.61Z" fill="#0000ff"/>
<path d="M670.38 131.91L673.49 126.51H667.28Z" fill="#0000ff"/>
<path d="M673.77 129.50L676.88 124.11H670.67Z" fill="#0000ff"/>
<path d="M676.93 128.20L680.04 122.80H673.83Z" fill="#0000ff"/>
<path d="M679.89 126.31L682.99 120.91H676.78Z" fill="#0000ff"/>
<path d="M682.66 124.41L685.77 119.00H679.56Z" fill="#0000ff"/>
<path d="M685.28 121.11L688.38 115.70H682.17Z" fill="#0000ff"/>
<path d="M687.75 118.41L690.86 113.00H684.65Z" fill="#0000ff"/>
<path d="M690.10 115.61L693.21 110.20H687.00Z" fill="#0000ff"/>
<path d="M424.19 198.96L427.43 202.20L424.19 205.44L420.95 202.20Z" fill="#800080"/>
<path d="M455.92 192.76L459.16 196.00L455.92 199.24L452.68 196.00Z" fill="#800080"/>
<path d="M474.48 187.86L477.72 191.10L474.48 194.34L471.24 191.10Z" fill="#800080"/>
<path d="M479.30 186.86L482.54 190.10L479.30 193.34L476.06 190.10Z" fill="#800080"/>
<path d="M487.65 185.06L490.89 188.30L487.65 191.54L484.41 188.30Z" fill="#800080"/>
<path d="M511.03 179.56L514.27 182.80L511.03 186.04L507.79 182.80Z" fill="#800080"/>
<path d="M529.59 173.36L532.83 176.60L529.59 179.84L526.35 176.60Z" fill="#800080"/>
<path d="M542.76 167.96L546.00 171.20L542.76 174.44L539.52 171.20Z" fill="#800080"/>
<path d="M552.97 163.26L556.21 166.50L552.97 169.74L549.73 166.50Z" fill="#800080"/>
<path d="M561.32 160.96L564.56 164.20L561.32 167.44L558.08 164.20Z" fill="#800080"/>
<path d="M568.37 158.66L571.61 161.90L568.37 165.14L565.13 161.90Z" fill="#800080"/>
<path d="M574.49 155.56L577.73 158.80L574.49 162.04L571.25 158.80Z" fill="#800080"/>
<path d="M579.88 153.26L583.12 156.50L579.88 159.74L576.64 156.50Z" fill="#800080"/>
<path d="M584.70 150.86L587.94 154.10L584.70 157.34L581.46 154.10Z" fill="#800080"/>
<path d="M593.05 147.06L596.29 150.30L593.05 153.54L589.81 150.30Z" fill="#800080"/>
<path d="M600.10 144.56L603.34 147.80L600.10 151.04L596.86 147.80Z" fill="#800080"/>
<path d="M606.21 142.26L609.45 145.50L606.21 148.74L602.97 145.50Z" fill="#800080"/>
<path d="M611.61 140.26L614.85 143.50L611.61 146.74L608.37 143.50Z" fill="#800080"/>
<path d="M616.43 136.86L619.67 140.10L616.43 143.34L613.19 140.10Z" fill="#800080"/>
<path d="M626.64 130.86L629.88 134.10L626.64 137.34L623.40 134.10Z" fill="#800080"/>
<path d="M634.99 125.36L638.23 128.60L634.99 131.84L631.75 128.60Z" fill="#800080"/>
<path d="M642.04 120.96L645.28 124.20L642.04 127.44L638.80 124.20Z" fill="#800080"/>
<path d="M648.16 116.56L651.40 119.80L648.16 123.04L644.92 119.80Z" fill="#800080"/>
<path d="M653.55 112.56L656.79 115.80L653.55 119.04L650.31 115.80Z" fill="#800080"/>
<path d="M658.37 108.96L661.61 112.20L658.37 115.44L655.13 112.20Z" fill="#800080"/>
<path d="M662.73 105.26L665.97 108.50L662.73 111.74L659.49 108.50Z" fill="#800080"/>
<path d="M666.72 103.16L669.96 106.40L666.72 109.64L663.48 106.40Z" fill="#800080"/>
<path d="M670.38 98.96L673.62 102.20L670.38 105.44L667.14 102.20Z" fill="#800080"/>
<path d="M673.77 97.46L677.01 100.70L673.77 103.94L670.53 100.70Z" fill="#800080"/>
<path d="M676.93 95.03L680.17 98.27L676.93 101.51L673.69 98.27Z" fill="#800080"/>
<path d="M679.89 92.76L683.13 96.00L679.89 99.24L676.65 96.00Z" fill="#800080"/>
<path d="M682.66 90.44L685.90 93.68L682.66 96.92L679.42 93.68Z" fill="#800080"/>
<path d="M685.28 88.26L688.52 91.50L685.28 94.74L682.04 91.50Z" fill="#800080"/>
<path d="M687.75 86.10L690.99 89.34L687.75 92.58L684.51 89.34Z" fill="#800080"/>
<path d="M690.10 84.06L693.34 87.30L690.10 90.54L686.86 87.30Z" fill="#800080"/>
<path d="M421.08 186.40L426.48 183.30V189.50Z" fill="#ff00ff"/>
<path d="M452.81 180.20L458.21 177.09V183.30Z" fill="#ff00ff"/>
<path d="M471.37 175.10L476.77 172.00V178.20Z" fill="#ff00ff"/>
<path d="M476.19 174.30L481.60 171.20V177.41Z" fill="#ff00ff"/>
<path d="M484.54 172.00L489.94 168.90V175.10Z" fill="#ff00ff"/>
<path d="M507.92 166.50L513.32 163.40V169.60Z" fill="#ff00ff"/>
<path d="M526.48 160.70L531.88 157.59V163.80Z" fill="#ff00ff"/>
<path d="M539.65 158.00L545.05 154.90V161.10Z" fill="#ff00ff"/>
<path d="M549.87 154.90L555.27 151.80V158.00Z" fill="#ff00ff"/>
<path d="M558.21 151.80L563.61 148.70V154.91Z" fill="#ff00ff"/>
<path d="M565.27 150.30L570.67 147.20V153.41Z" fill="#ff00ff"/>
<path d="M571.38 147.20L576.78 144.09V150.30Z" fill="#ff00ff"/>
<path d="M576.77 144.80L582.17 141.70V147.91Z" fill="#ff00ff"/>
<path d="M581.60 141.70L587.00 138.59V144.80Z" fill="#ff00ff"/>
<path d="M589.94 137.10L595.34 134.00V140.20Z" fill="#ff00ff"/>
<path d="M597.00 131.50L602.40 128.40V134.60Z" fill="#ff00ff"/>
<path d="M603.11 128.50L608.51 125.39V131.60Z" fill="#ff00ff"/>
<path d="M608.50 122.70L613.90 119.59V125.81Z" fill="#ff00ff"/>
<path d="M613.32 121.50L618.72 118.39V124.61Z" fill="#ff00ff"/>
<path d="M623.54 116.50L628.94 113.39V119.61Z" fill="#ff00ff"/>
<path d="M631.88 112.00L637.28 108.89V115.11Z" fill="#ff00ff"/>
<path d="M638.94 107.80L644.34 104.69V110.91Z" fill="#ff00ff"/>
<path d="M645.05 103.60L650.45 100.49V106.70Z" fill="#ff00ff"/>
<path d="M650.44 100.00L655.84 96.89V103.11Z" fill="#ff00ff"/>
<path d="M655.27 95.10L660.67 91.99V98.20Z" fill="#ff00ff"/>
<path d="M659.63 91.50L665.03 88.39V94.61Z" fill="#ff00ff"/>
<path d="M663.61 88.00L669.01 84.89V91.11Z" fill="#ff00ff"/>
<path d="M667.28 84.40L672.68 81.30V87.51Z" fill="#ff00ff"/>
<path d="M670.67 82.30L676.07 79.19V85.41Z" fill="#ff00ff"/>
<path d="M673.83 80.08L679.23 76.97V83.18Z" fill="#ff00ff"/>
<path d="M676.78 78.00L682.18 74.89V81.11Z" fill="#ff00ff"/>
<path d="M679.56 75.84L684.96 72.73V78.94Z" fill="#ff00ff"/>
<path d="M682.17 73.80L687.57 70.69V76.91Z" fill="#ff00ff"/>
<path d="M684.65 71.64L690.05 68.54V74.75Z" fill="#ff00ff"/>
<path d="M687.00 69.60L692.39 66.49V72.70Z" fill="#ff00ff"/>
<path d="M427.29 182.80L421.89 179.70V185.91Z" fill="#000080"/>
<path d="M459.02 174.00L453.62 170.90V177.10Z" fill="#000080"/>
<path d="M477.58 170.00L472.18 166.90V173.10Z" fill="#000080"/>
<path d="M482.41 168.40L477.00 165.30V171.50Z" fill="#000080"/>
<path d="M490.75 166.50L485.35 163.40V169.60Z" fill="#000080"/>
<path d="M514.13 161.10L508.73 158.00V164.20Z" fill="#000080"/>
<path d="M532.69 156.50L527.29 153.40V159.60Z" fill="#000080"/>
<path d="M545.86 152.60L540.46 149.50V155.70Z" fill="#000080"/>
<path d="M556.08 148.70L550.68 145.59V151.80Z" fill="#000080"/>
<path d="M564.42 144.00L559.02 140.90V147.10Z" fill="#000080"/>
<path d="M571.48 140.20L566.08 137.09V143.30Z" fill="#000080"/>
<path d="M577.59 136.30L572.19 133.20V139.41Z" fill="#000080"/>
<path d="M582.98 132.40L577.58 129.30V135.50Z" fill="#000080"/>
<path d="M587.81 129.50L582.41 126.39V132.60Z" fill="#000080"/>
<path d="M596.15 124.30L590.75 121.19V127.41Z" fill="#000080"/>
<path d="M603.21 120.00L597.81 116.89V123.11Z" fill="#000080"/>
<path d="M609.32 116.00L603.92 112.89V119.11Z" fill="#000080"/>
<path d="M614.71 111.00L609.31 107.89V114.11Z" fill="#000080"/>
<path d="M619.53 107.80L614.13 104.69V110.91Z" fill="#000080"/>
<path d="M629.75 100.00L624.35 96.89V103.11Z" fill="#000080"/>
<path d="M638.09 92.20L632.69 89.09V95.31Z" fill="#000080"/>
<path d="M645.15 87.30L639.75 84.19V90.41Z" fill="#000080"/>
<path d="M651.26 82.30L645.86 79.19V85.41Z" fill="#000080"/>
<path d="M656.65 78.10L651.25 74.99V81.20Z" fill="#000080"/>
<path d="M661.48 73.80L656.08 70.69V76.91Z" fill="#000080"/>
<path d="M665.84 71.00L660.44 67.89V74.11Z" fill="#000080"/>
<path d="M669.82 67.40L664.42 64.30V70.51Z" fill="#000080"/>
<path d="M673.49 64.60L668.09 61.49V67.70Z" fill="#000080"/>
<path d="M676.88 61.80L671.48 58.70V64.91Z" fill="#000080"/>
<path d="M680.04 58.85L674.64 55.75V61.96Z" fill="#000080"/>
<path d="M682.99 56.10L677.59 53.00V59.20Z" fill="#000080"/>
<path d="M685.77 53.58L680.37 50.47V56.68Z" fill="#000080"/>
<path d="M688.38 51.20L682.98 48.10V54.30Z" fill="#000080"/>
<path d="M690.86 48.63L685.46 45.53V51.74Z" fill="#000080"/>
<path d="M693.21 46.20L687.81 43.10V49.30Z" fill="#000080"/>
<circle cx="424.19" cy="178.20" r="2.70" fill="#808000"/>
<circle cx="455.92" cy="164.70" r="2.70" fill="#808000"/>
<circle cx="474.48" cy="155.40" r="2.70" fill="#808000"/>
<circle cx="479.30" cy="153.00" r="2.70" fill="#808000"/>
<circle cx="487.65" cy="151.00" r="2.70" fill="#808000"/>
<circle cx="511.03" cy="138.60" r="2.70" fill="#808000"/>
<circle cx="529.59" cy="129.50" r="2.70" fill="#808000"/>
<circle cx="542.76" cy="122.60" r="2.70" fill="#808000"/>
<circle cx="552.97" cy="118.60" r="2.70" fill="#808000"/>
<circle cx="561.32" cy="115.50" r="2.70" fill="#808000"/>
<circle cx="568.37" cy="110.80" r="2.70" fill="#808000"/>
<circle cx="574.49" cy="106.60" r="2.70" fill="#808000"/>
<circle cx="579.88" cy="102.30" r="2.70" fill="#808000"/>
<circle cx="584.70" cy="98.00" r="2.70" fill="#808000"/>
<circle cx="593.05" cy="91.40" r="2.70" fill="#808000"/>
<circle cx="600.10" cy="87.40" r="2.70" fill="#808000"/>
<circle cx="606.21" cy="83.00" r="2.70" fill="#808000"/>
<circle cx="611.61" cy="78.80" r="2.70" fill="#808000"/>
<circle cx="616.43" cy="74.50" r="2.70" fill="#808000"/>
<circle cx="626.64" cy="68.20" r="2.70" fill="#808000"/>
<circle cx="634.99" cy="63.20" r="2.70" fill="#808000"/>
<circle cx="642.04" cy="56.80" r="2.70" fill="#808000"/>
<circle cx="648.16" cy="52.60" r="2.70" fill="#808000"/>
<circle cx="653.55" cy="49.00" r="2.70" fill="#808000"/>
<circle cx="658.37" cy="44.10" r="2.70" fill="#808000"/>
<circle cx="662.73" cy="40.50" r="2.70" fill="#808000"/>
<circle cx="666.72" cy="37.00" r="2.70" fill="#808000"/>
<circle cx="670.38" cy="32.00" r="2.70" fill="#808000"/>
<circle cx="673.77" cy="29.90" r="2.70" fill="#808000"/>
<circle cx="676.93" cy="28.09" r="2.70" fill="#808000"/>
<circle cx="679.89" cy="26.40" r="2.70" fill="#808000"/>
<circle cx="682.66" cy="24.55" r="2.70" fill="#808000"/>
<circle cx="685.28" cy="22.80" r="2.70" fill="#808000"/>
<circle cx="687.75" cy="21.36" r="2.70" fill="#808000"/>
<circle cx="690.10" cy="20.00" r="2.70" fill="#808000"/>
<line x1="424" y1="179" x2="605.9" y2="94.5" stroke="#ff3030" stroke-width="0.8"/>
<line x1="424" y1="183.6" x2="605.9" y2="133.2" stroke="#ff3030" stroke-width="0.8"/>
<line x1="424" y1="187.6" x2="605.9" y2="140.2" stroke="#ff3030" stroke-width="0.8"/>
<line x1="424" y1="206.1" x2="605.9" y2="150.3" stroke="#ff3030" stroke-width="0.8"/>
<line x1="424" y1="220.5" x2="615" y2="165" stroke="#ff3030" stroke-width="0.8"/>
<line x1="424" y1="233.3" x2="605.9" y2="202.2" stroke="#ff3030" stroke-width="0.8"/>
<line x1="424" y1="238.2" x2="605.9" y2="205" stroke="#ff3030" stroke-width="0.8"/>
<line x1="573.8" y1="222.7" x2="689.3" y2="158.5" stroke="#ff3030" stroke-width="0.8"/>
<line x1="573.8" y1="218" x2="690" y2="145" stroke="#ff3030" stroke-width="0.8"/>
<line x1="573.8" y1="211.8" x2="690.3" y2="135.8" stroke="#ff3030" stroke-width="0.8"/>
<line x1="573.8" y1="193.1" x2="691" y2="116" stroke="#ff3030" stroke-width="0.8"/>
<line x1="574" y1="163.4" x2="691" y2="88" stroke="#ff3030" stroke-width="0.8"/>
<line x1="590" y1="140" x2="691" y2="70" stroke="#ff3030" stroke-width="0.8"/>
<line x1="584.1" y1="130" x2="691" y2="47" stroke="#ff3030" stroke-width="0.8"/>
<line x1="585" y1="100" x2="690" y2="20" stroke="#ff3030" stroke-width="0.8"/>
<rect x="416.00" y="2.90" width="277.60" height="242.10" fill="none" stroke="#000" stroke-width="1.5"/>
<path d="M424.19 245.00v-2.20M437.36 245.00v-2.20M447.57 245.00v-2.20M455.92 245.00v-2.20M462.97 245.00v-2.20M469.09 245.00v-2.20M474.48 245.00v-2.20M479.30 245.00v-3.80M511.03 245.00v-2.20M529.59 245.00v-2.20M542.76 245.00v-2.20M552.97 245.00v-2.20M561.32 245.00v-2.20M568.37 245.00v-2.20M574.49 245.00v-2.20M579.88 245.00v-2.20M584.70 245.00v-3.80M616.43 245.00v-2.20M634.99 245.00v-2.20M648.16 245.00v-2.20M658.37 245.00v-2.20M666.72 245.00v-2.20M673.77 245.00v-2.20M679.89 245.00v-2.20M685.28 245.00v-2.20M690.10 245.00v-3.80M416.00 235.95h2.20M416.00 229.12h2.20M416.00 223.54h2.20M416.00 218.82h2.20M416.00 214.73h2.20M416.00 211.13h2.20M416.00 207.90h3.80M416.00 186.68h2.20M416.00 174.26h2.20M416.00 165.45h2.20M416.00 158.62h2.20M416.00 153.04h2.20M416.00 148.32h2.20M416.00 144.23h2.20M416.00 140.63h2.20M416.00 137.40h3.80M416.00 116.18h2.20M416.00 103.76h2.20M416.00 94.95h2.20M416.00 88.12h2.20M416.00 82.54h2.20M416.00 77.82h2.20M416.00 73.73h2.20M416.00 70.13h2.20M416.00 66.90h3.80M416.00 45.68h2.20M416.00 33.26h2.20M416.00 24.45h2.20M416.00 17.62h2.20M416.00 12.04h2.20M416.00 7.32h2.20" stroke="#000" stroke-width="1.2" fill="none"/>
<text x="479.60" y="260.10" font-size="13.8" text-anchor="middle">1</text>
<text x="585.00" y="260.10" font-size="13.8" text-anchor="middle">10</text>
<text x="690.40" y="260.10" font-size="13.8" text-anchor="middle">100</text>
<text x="403.40" y="71.70" font-size="13.8" text-anchor="end">10</text>
<text x="403.40" y="65.60" font-size="9.7">-4</text>
<text x="403.40" y="142.20" font-size="13.8" text-anchor="end">10</text>
<text x="403.40" y="136.10" font-size="9.7">-5</text>
<text x="403.40" y="212.70" font-size="13.8" text-anchor="end">10</text>
<text x="403.40" y="206.60" font-size="9.7">-6</text>
<text x="499.70" y="276.6" font-size="18.5" textLength="109.80" lengthAdjust="spacingAndGlyphs">Voltage, <tspan font-style="italic">V</tspan> (V)</text>
<text transform="translate(382.6,207.10) rotate(-90)" font-size="17.95" textLength="186.10" lengthAdjust="spacingAndGlyphs">Current density, <tspan font-style="italic">J</tspan>(Am<tspan font-size="11.8" dy="-6.82">-2</tspan><tspan dy="6.82">)</tspan></text>
<text x="584.9" y="26.6" font-size="20" text-anchor="middle">(b)</text>
<rect x="434.92" y="13.12" width="5.15" height="5.15" fill="#000000"/>
<text x="456.50" y="20.20" font-size="13.8">298 K</text>
<circle cx="437.50" cy="32.20" r="2.80" fill="#ff0000"/>
<text x="456.50" y="36.70" font-size="13.8">308 K</text>
<path d="M437.50 45.68L440.72 51.28H434.28Z" fill="#800000"/>
<text x="456.50" y="53.40" font-size="13.8">318 K</text>
<path d="M437.50 69.22L440.72 63.62H434.28Z" fill="#0000ff"/>
<text x="456.50" y="70.50" font-size="13.8">328 K</text>
<path d="M437.50 79.24L440.86 82.60L437.50 85.96L434.14 82.60Z" fill="#800080"/>
<text x="456.50" y="87.10" font-size="13.8">338 K</text>
<path d="M434.28 99.10L439.88 95.88V102.32Z" fill="#ff00ff"/>
<text x="456.50" y="103.60" font-size="13.8">348 K</text>
<path d="M440.72 115.60L435.12 112.38V118.82Z" fill="#000080"/>
<text x="456.50" y="120.10" font-size="13.8">358 K</text>
<circle cx="437.50" cy="132.40" r="2.80" fill="#808000"/>
<text x="456.50" y="136.90" font-size="13.8">373 K</text>
<rect x="57.26" y="537.92" width="4.97" height="4.97" fill="#000000"/>
<rect x="89.53" y="534.82" width="4.97" height="4.97" fill="#000000"/>
<rect x="108.41" y="533.12" width="4.97" height="4.97" fill="#000000"/>
<rect x="121.80" y="530.62" width="4.97" height="4.97" fill="#000000"/>
<rect x="145.59" y="528.82" width="4.97" height="4.97" fill="#000000"/>
<rect x="164.46" y="526.82" width="4.97" height="4.97" fill="#000000"/>
<rect x="177.86" y="525.22" width="4.97" height="4.97" fill="#000000"/>
<rect x="188.25" y="523.72" width="4.97" height="4.97" fill="#000000"/>
<rect x="196.73" y="522.92" width="4.97" height="4.97" fill="#000000"/>
<rect x="203.91" y="522.12" width="4.97" height="4.97" fill="#000000"/>
<rect x="210.13" y="520.82" width="4.97" height="4.97" fill="#000000"/>
<rect x="215.61" y="520.52" width="4.97" height="4.97" fill="#000000"/>
<rect x="220.52" y="519.82" width="4.97" height="4.97" fill="#000000"/>
<rect x="229.00" y="519.02" width="4.97" height="4.97" fill="#000000"/>
<rect x="236.18" y="518.02" width="4.97" height="4.97" fill="#000000"/>
<rect x="242.40" y="516.72" width="4.97" height="4.97" fill="#000000"/>
<rect x="247.88" y="515.22" width="4.97" height="4.97" fill="#000000"/>
<rect x="252.79" y="514.52" width="4.97" height="4.97" fill="#000000"/>
<rect x="263.18" y="513.52" width="4.97" height="4.97" fill="#000000"/>
<rect x="271.66" y="511.52" width="4.97" height="4.97" fill="#000000"/>
<rect x="278.84" y="509.62" width="4.97" height="4.97" fill="#000000"/>
<rect x="285.06" y="507.12" width="4.97" height="4.97" fill="#000000"/>
<rect x="290.54" y="504.62" width="4.97" height="4.97" fill="#000000"/>
<rect x="295.45" y="502.72" width="4.97" height="4.97" fill="#000000"/>
<rect x="299.88" y="501.22" width="4.97" height="4.97" fill="#000000"/>
<rect x="303.93" y="499.02" width="4.97" height="4.97" fill="#000000"/>
<rect x="307.66" y="497.52" width="4.97" height="4.97" fill="#000000"/>
<rect x="311.11" y="495.32" width="4.97" height="4.97" fill="#000000"/>
<rect x="314.32" y="493.82" width="4.97" height="4.97" fill="#000000"/>
<rect x="317.33" y="492.32" width="4.97" height="4.97" fill="#000000"/>
<rect x="320.15" y="490.12" width="4.97" height="4.97" fill="#000000"/>
<rect x="322.81" y="487.82" width="4.97" height="4.97" fill="#000000"/>
<rect x="325.33" y="486.42" width="4.97" height="4.97" fill="#000000"/>
<rect x="327.72" y="484.12" width="4.97" height="4.97" fill="#000000"/>
<circle cx="59.75" cy="533.10" r="2.70" fill="#ff0000"/>
<circle cx="92.02" cy="531.00" r="2.70" fill="#ff0000"/>
<circle cx="110.89" cy="529.10" r="2.70" fill="#ff0000"/>
<circle cx="124.29" cy="527.40" r="2.70" fill="#ff0000"/>
<circle cx="148.07" cy="525.70" r="2.70" fill="#ff0000"/>
<circle cx="166.95" cy="524.30" r="2.70" fill="#ff0000"/>
<circle cx="180.34" cy="523.10" r="2.70" fill="#ff0000"/>
<circle cx="190.73" cy="522.80" r="2.70" fill="#ff0000"/>
<circle cx="199.22" cy="521.90" r="2.70" fill="#ff0000"/>
<circle cx="206.39" cy="521.20" r="2.70" fill="#ff0000"/>
<circle cx="212.61" cy="520.80" r="2.70" fill="#ff0000"/>
<circle cx="218.09" cy="520.00" r="2.70" fill="#ff0000"/>
<circle cx="223.00" cy="519.20" r="2.70" fill="#ff0000"/>
<circle cx="231.49" cy="517.70" r="2.70" fill="#ff0000"/>
<circle cx="238.66" cy="516.20" r="2.70" fill="#ff0000"/>
<circle cx="244.88" cy="514.70" r="2.70" fill="#ff0000"/>
<circle cx="250.37" cy="512.60" r="2.70" fill="#ff0000"/>
<circle cx="255.27" cy="511.10" r="2.70" fill="#ff0000"/>
<circle cx="265.66" cy="509.60" r="2.70" fill="#ff0000"/>
<circle cx="274.15" cy="507.40" r="2.70" fill="#ff0000"/>
<circle cx="281.32" cy="505.20" r="2.70" fill="#ff0000"/>
<circle cx="287.54" cy="502.90" r="2.70" fill="#ff0000"/>
<circle cx="293.02" cy="500.70" r="2.70" fill="#ff0000"/>
<circle cx="297.93" cy="498.50" r="2.70" fill="#ff0000"/>
<circle cx="302.37" cy="497.00" r="2.70" fill="#ff0000"/>
<circle cx="306.42" cy="495.50" r="2.70" fill="#ff0000"/>
<circle cx="310.14" cy="494.00" r="2.70" fill="#ff0000"/>
<circle cx="313.59" cy="492.60" r="2.70" fill="#ff0000"/>
<circle cx="316.81" cy="491.10" r="2.70" fill="#ff0000"/>
<circle cx="319.81" cy="489.60" r="2.70" fill="#ff0000"/>
<circle cx="322.63" cy="487.40" r="2.70" fill="#ff0000"/>
<circle cx="325.29" cy="485.20" r="2.70" fill="#ff0000"/>
<circle cx="327.81" cy="482.20" r="2.70" fill="#ff0000"/>
<circle cx="330.20" cy="479.20" r="2.70" fill="#ff0000"/>
<path d="M59.75 522.69L62.85 528.09H56.64Z" fill="#800000"/>
<path d="M92.02 519.39L95.12 524.79H88.91Z" fill="#800000"/>
<path d="M110.89 516.60L114.00 522.00H107.79Z" fill="#800000"/>
<path d="M124.29 514.19L127.39 519.59H121.18Z" fill="#800000"/>
<path d="M148.07 511.60L151.18 517.00H144.97Z" fill="#800000"/>
<path d="M166.95 509.89L170.05 515.29H163.84Z" fill="#800000"/>
<path d="M180.34 508.39L183.45 513.79H177.24Z" fill="#800000"/>
<path d="M190.73 507.29L193.83 512.69H187.62Z" fill="#800000"/>
<path d="M199.22 506.79L202.32 512.19H196.11Z" fill="#800000"/>
<path d="M206.39 506.29L209.50 511.69H203.29Z" fill="#800000"/>
<path d="M212.61 505.29L215.72 510.69H209.51Z" fill="#800000"/>
<path d="M218.09 504.50L221.20 509.90H214.99Z" fill="#800000"/>
<path d="M223.00 503.69L226.10 509.10H219.90Z" fill="#800000"/>
<path d="M231.49 502.89L234.59 508.30H228.38Z" fill="#800000"/>
<path d="M238.66 502.09L241.77 507.50H235.56Z" fill="#800000"/>
<path d="M244.88 501.19L247.99 506.60H241.78Z" fill="#800000"/>
<path d="M250.37 499.79L253.47 505.19H247.26Z" fill="#800000"/>
<path d="M255.27 497.59L258.38 503.00H252.17Z" fill="#800000"/>
<path d="M265.66 493.89L268.76 499.30H262.55Z" fill="#800000"/>
<path d="M274.15 490.89L277.25 496.30H271.04Z" fill="#800000"/>
<path d="M281.32 488.29L284.43 493.69H278.22Z" fill="#800000"/>
<path d="M287.54 486.50L290.65 491.90H284.44Z" fill="#800000"/>
<path d="M293.02 483.50L296.13 488.90H289.92Z" fill="#800000"/>
<path d="M297.93 480.89L301.03 486.30H294.82Z" fill="#800000"/>
<path d="M302.37 478.39L305.47 483.80H299.26Z" fill="#800000"/>
<path d="M306.42 476.09L309.52 481.50H303.31Z" fill="#800000"/>
<path d="M310.14 473.89L313.25 479.30H307.04Z" fill="#800000"/>
<path d="M313.59 471.69L316.70 477.10H310.49Z" fill="#800000"/>
<path d="M316.81 469.50L319.91 474.90H313.70Z" fill="#800000"/>
<path d="M319.81 467.29L322.92 472.69H316.71Z" fill="#800000"/>
<path d="M322.63 464.29L325.74 469.69H319.53Z" fill="#800000"/>
<path d="M325.29 461.29L328.40 466.69H322.19Z" fill="#800000"/>
<path d="M327.81 458.39L330.92 463.80H324.71Z" fill="#800000"/>
<path d="M330.20 455.39L333.31 460.80H327.09Z" fill="#800000"/>
<path d="M59.75 512.90L62.85 507.50H56.64Z" fill="#0000ff"/>
<path d="M92.02 508.71L95.12 503.31H88.91Z" fill="#0000ff"/>
<path d="M110.89 504.50L114.00 499.10H107.79Z" fill="#0000ff"/>
<path d="M124.29 500.91L127.39 495.50H121.18Z" fill="#0000ff"/>
<path d="M148.07 497.41L151.18 492.00H144.97Z" fill="#0000ff"/>
<path d="M166.95 493.61L170.05 488.20H163.84Z" fill="#0000ff"/>
<path d="M180.34 490.81L183.45 485.40H177.24Z" fill="#0000ff"/>
<path d="M190.73 488.21L193.83 482.81H187.62Z" fill="#0000ff"/>
<path d="M199.22 485.91L202.32 480.50H196.11Z" fill="#0000ff"/>
<path d="M206.39 483.50L209.50 478.10H203.29Z" fill="#0000ff"/>
<path d="M212.61 482.00L215.72 476.60H209.51Z" fill="#0000ff"/>
<path d="M218.09 479.61L221.20 474.20H214.99Z" fill="#0000ff"/>
<path d="M223.00 478.91L226.10 473.50H219.90Z" fill="#0000ff"/>
<path d="M231.49 477.31L234.59 471.90H228.38Z" fill="#0000ff"/>
<path d="M238.66 475.11L241.77 469.70H235.56Z" fill="#0000ff"/>
<path d="M244.88 473.81L247.99 468.40H241.78Z" fill="#0000ff"/>
<path d="M250.37 470.41L253.47 465.00H247.26Z" fill="#0000ff"/>
<path d="M255.27 467.50L258.38 462.10H252.17Z" fill="#0000ff"/>
<path d="M265.66 463.11L268.76 457.70H262.55Z" fill="#0000ff"/>
<path d="M274.15 458.61L277.25 453.20H271.04Z" fill="#0000ff"/>
<path d="M281.32 454.21L284.43 448.81H278.22Z" fill="#0000ff"/>
<path d="M287.54 449.81L290.65 444.40H284.44Z" fill="#0000ff"/>
<path d="M293.02 445.11L296.13 439.70H289.92Z" fill="#0000ff"/>
<path d="M297.93 440.81L301.03 435.40H294.82Z" fill="#0000ff"/>
<path d="M302.37 436.61L305.47 431.20H299.26Z" fill="#0000ff"/>
<path d="M306.42 432.61L309.52 427.20H303.31Z" fill="#0000ff"/>
<path d="M310.14 428.61L313.25 423.20H307.04Z" fill="#0000ff"/>
<path d="M313.59 424.61L316.70 419.20H310.49Z" fill="#0000ff"/>
<path d="M316.81 422.11L319.91 416.70H313.70Z" fill="#0000ff"/>
<path d="M319.81 419.61L322.92 414.20H316.71Z" fill="#0000ff"/>
<path d="M322.63 417.60L325.74 412.20H319.53Z" fill="#0000ff"/>
<path d="M325.29 415.71L328.40 410.31H322.19Z" fill="#0000ff"/>
<path d="M327.81 412.93L330.92 407.53H324.71Z" fill="#0000ff"/>
<path d="M330.20 410.31L333.31 404.90H327.09Z" fill="#0000ff"/>
<path d="M59.75 514.36L62.99 517.60L59.75 520.84L56.51 517.60Z" fill="#800080"/>
<path d="M92.02 511.26L95.26 514.50L92.02 517.74L88.78 514.50Z" fill="#800080"/>
<path d="M110.89 508.46L114.13 511.70L110.89 514.94L107.65 511.70Z" fill="#800080"/>
<path d="M124.29 506.16L127.53 509.40L124.29 512.64L121.05 509.40Z" fill="#800080"/>
<path d="M148.07 503.26L151.31 506.50L148.07 509.74L144.83 506.50Z" fill="#800080"/>
<path d="M166.95 500.96L170.19 504.20L166.95 507.44L163.71 504.20Z" fill="#800080"/>
<path d="M180.34 498.86L183.58 502.10L180.34 505.34L177.10 502.10Z" fill="#800080"/>
<path d="M190.73 497.86L193.97 501.10L190.73 504.34L187.49 501.10Z" fill="#800080"/>
<path d="M199.22 496.56L202.46 499.80L199.22 503.04L195.98 499.80Z" fill="#800080"/>
<path d="M206.39 495.36L209.63 498.60L206.39 501.84L203.15 498.60Z" fill="#800080"/>
<path d="M212.61 493.46L215.85 496.70L212.61 499.94L209.37 496.70Z" fill="#800080"/>
<path d="M218.09 491.96L221.33 495.20L218.09 498.44L214.85 495.20Z" fill="#800080"/>
<path d="M223.00 490.36L226.24 493.60L223.00 496.84L219.76 493.60Z" fill="#800080"/>
<path d="M231.49 488.86L234.73 492.10L231.49 495.34L228.25 492.10Z" fill="#800080"/>
<path d="M238.66 487.76L241.90 491.00L238.66 494.24L235.42 491.00Z" fill="#800080"/>
<path d="M244.88 484.86L248.12 488.10L244.88 491.34L241.64 488.10Z" fill="#800080"/>
<path d="M250.37 481.16L253.61 484.40L250.37 487.64L247.13 484.40Z" fill="#800080"/>
<path d="M255.27 478.26L258.51 481.50L255.27 484.74L252.03 481.50Z" fill="#800080"/>
<path d="M265.66 475.26L268.90 478.50L265.66 481.74L262.42 478.50Z" fill="#800080"/>
<path d="M274.15 471.86L277.39 475.10L274.15 478.34L270.91 475.10Z" fill="#800080"/>
<path d="M281.32 467.86L284.56 471.10L281.32 474.34L278.08 471.10Z" fill="#800080"/>
<path d="M287.54 464.86L290.78 468.10L287.54 471.34L284.30 468.10Z" fill="#800080"/>
<path d="M293.02 462.66L296.26 465.90L293.02 469.14L289.78 465.90Z" fill="#800080"/>
<path d="M297.93 459.46L301.17 462.70L297.93 465.94L294.69 462.70Z" fill="#800080"/>
<path d="M302.37 455.96L305.61 459.20L302.37 462.44L299.13 459.20Z" fill="#800080"/>
<path d="M306.42 453.76L309.66 457.00L306.42 460.24L303.18 457.00Z" fill="#800080"/>
<path d="M310.14 451.56L313.38 454.80L310.14 458.04L306.90 454.80Z" fill="#800080"/>
<path d="M313.59 449.36L316.83 452.60L313.59 455.84L310.35 452.60Z" fill="#800080"/>
<path d="M316.81 447.45L320.05 450.69L316.81 453.93L313.57 450.69Z" fill="#800080"/>
<path d="M319.81 445.66L323.05 448.90L319.81 452.14L316.57 448.90Z" fill="#800080"/>
<path d="M322.63 443.76L325.87 447.00L322.63 450.24L319.39 447.00Z" fill="#800080"/>
<path d="M325.29 441.96L328.53 445.20L325.29 448.44L322.05 445.20Z" fill="#800080"/>
<path d="M327.81 438.52L331.05 441.76L327.81 445.00L324.57 441.76Z" fill="#800080"/>
<path d="M330.20 435.26L333.44 438.50L330.20 441.74L326.96 438.50Z" fill="#800080"/>
<path d="M56.64 503.50L62.04 500.39V506.61Z" fill="#ff00ff"/>
<path d="M88.91 499.20L94.31 496.09V502.31Z" fill="#ff00ff"/>
<path d="M107.79 493.60L113.19 490.50V496.71Z" fill="#ff00ff"/>
<path d="M121.18 488.70L126.58 485.59V491.81Z" fill="#ff00ff"/>
<path d="M144.97 483.30L150.37 480.19V486.41Z" fill="#ff00ff"/>
<path d="M163.84 477.80L169.24 474.69V480.91Z" fill="#ff00ff"/>
<path d="M177.24 473.10L182.64 470.00V476.21Z" fill="#ff00ff"/>
<path d="M187.62 468.00L193.02 464.89V471.11Z" fill="#ff00ff"/>
<path d="M196.11 463.40L201.51 460.29V466.50Z" fill="#ff00ff"/>
<path d="M203.29 460.30L208.69 457.19V463.41Z" fill="#ff00ff"/>
<path d="M209.51 457.20L214.91 454.09V460.31Z" fill="#ff00ff"/>
<path d="M214.99 453.30L220.39 450.19V456.41Z" fill="#ff00ff"/>
<path d="M219.90 449.90L225.29 446.79V453.00Z" fill="#ff00ff"/>
<path d="M228.38 447.10L233.78 444.00V450.21Z" fill="#ff00ff"/>
<path d="M235.56 445.00L240.96 441.89V448.11Z" fill="#ff00ff"/>
<path d="M241.78 441.50L247.18 438.39V444.61Z" fill="#ff00ff"/>
<path d="M247.26 438.40L252.66 435.29V441.50Z" fill="#ff00ff"/>
<path d="M252.17 434.30L257.57 431.19V437.41Z" fill="#ff00ff"/>
<path d="M262.55 429.70L267.95 426.59V432.81Z" fill="#ff00ff"/>
<path d="M271.04 425.90L276.44 422.79V429.00Z" fill="#ff00ff"/>
<path d="M278.22 421.20L283.62 418.09V424.31Z" fill="#ff00ff"/>
<path d="M284.44 417.30L289.84 414.19V420.41Z" fill="#ff00ff"/>
<path d="M289.92 412.60L295.32 409.50V415.71Z" fill="#ff00ff"/>
<path d="M294.82 408.70L300.22 405.59V411.81Z" fill="#ff00ff"/>
<path d="M299.26 404.80L304.66 401.69V407.91Z" fill="#ff00ff"/>
<path d="M303.31 401.70L308.71 398.59V404.81Z" fill="#ff00ff"/>
<path d="M307.04 398.60L312.44 395.50V401.71Z" fill="#ff00ff"/>
<path d="M310.49 397.00L315.89 393.89V400.11Z" fill="#ff00ff"/>
<path d="M313.70 394.98L319.10 391.88V398.09Z" fill="#ff00ff"/>
<path d="M316.71 393.10L322.11 390.00V396.21Z" fill="#ff00ff"/>
<path d="M319.53 391.50L324.93 388.40V394.61Z" fill="#ff00ff"/>
<path d="M322.19 390.00L327.59 386.89V393.11Z" fill="#ff00ff"/>
<path d="M324.71 388.82L330.11 385.71V391.92Z" fill="#ff00ff"/>
<path d="M327.09 387.70L332.50 384.59V390.81Z" fill="#ff00ff"/>
<path d="M62.85 492.20L57.45 489.09V495.31Z" fill="#000080"/>
<path d="M95.12 485.10L89.72 482.00V488.21Z" fill="#000080"/>
<path d="M114.00 478.10L108.60 475.00V481.21Z" fill="#000080"/>
<path d="M127.39 472.40L121.99 469.29V475.50Z" fill="#000080"/>
<path d="M151.18 466.80L145.78 463.69V469.91Z" fill="#000080"/>
<path d="M170.05 461.80L164.65 458.69V464.91Z" fill="#000080"/>
<path d="M183.45 456.70L178.05 453.59V459.81Z" fill="#000080"/>
<path d="M193.83 452.00L188.43 448.89V455.11Z" fill="#000080"/>
<path d="M202.32 448.30L196.92 445.19V451.41Z" fill="#000080"/>
<path d="M209.50 445.00L204.10 441.89V448.11Z" fill="#000080"/>
<path d="M215.72 442.30L210.32 439.19V445.41Z" fill="#000080"/>
<path d="M221.20 439.20L215.80 436.09V442.31Z" fill="#000080"/>
<path d="M226.10 435.30L220.71 432.19V438.41Z" fill="#000080"/>
<path d="M234.59 431.50L229.19 428.39V434.61Z" fill="#000080"/>
<path d="M241.77 427.50L236.37 424.39V430.61Z" fill="#000080"/>
<path d="M247.99 423.60L242.59 420.50V426.71Z" fill="#000080"/>
<path d="M253.47 419.70L248.07 416.59V422.81Z" fill="#000080"/>
<path d="M258.38 415.00L252.98 411.89V418.11Z" fill="#000080"/>
<path d="M268.76 410.30L263.36 407.19V413.41Z" fill="#000080"/>
<path d="M277.25 405.60L271.85 402.50V408.71Z" fill="#000080"/>
<path d="M284.43 400.90L279.03 397.79V404.00Z" fill="#000080"/>
<path d="M290.65 397.80L285.25 394.69V400.91Z" fill="#000080"/>
<path d="M296.13 393.90L290.73 390.79V397.00Z" fill="#000080"/>
<path d="M301.03 390.80L295.63 387.69V393.91Z" fill="#000080"/>
<path d="M305.47 388.50L300.07 385.39V391.61Z" fill="#000080"/>
<path d="M309.52 385.30L304.12 382.19V388.41Z" fill="#000080"/>
<path d="M313.25 383.00L307.85 379.89V386.11Z" fill="#000080"/>
<path d="M316.70 380.70L311.30 377.59V383.81Z" fill="#000080"/>
<path d="M319.91 379.10L314.51 376.00V382.21Z" fill="#000080"/>
<path d="M322.92 376.80L317.52 373.69V379.91Z" fill="#000080"/>
<path d="M325.74 374.40L320.34 371.29V377.50Z" fill="#000080"/>
<path d="M328.40 372.10L323.00 369.00V375.21Z" fill="#000080"/>
<path d="M330.92 370.50L325.52 367.39V373.61Z" fill="#000080"/>
<path d="M333.31 368.20L327.90 365.09V371.31Z" fill="#000080"/>
<circle cx="59.75" cy="483.70" r="2.70" fill="#808000"/>
<circle cx="92.02" cy="469.30" r="2.70" fill="#808000"/>
<circle cx="110.89" cy="457.60" r="2.70" fill="#808000"/>
<circle cx="124.29" cy="450.60" r="2.70" fill="#808000"/>
<circle cx="148.07" cy="439.50" r="2.70" fill="#808000"/>
<circle cx="166.95" cy="432.90" r="2.70" fill="#808000"/>
<circle cx="180.34" cy="425.90" r="2.70" fill="#808000"/>
<circle cx="190.73" cy="420.10" r="2.70" fill="#808000"/>
<circle cx="199.22" cy="416.10" r="2.70" fill="#808000"/>
<circle cx="206.39" cy="411.90" r="2.70" fill="#808000"/>
<circle cx="212.61" cy="408.30" r="2.70" fill="#808000"/>
<circle cx="218.09" cy="404.80" r="2.70" fill="#808000"/>
<circle cx="223.00" cy="401.40" r="2.70" fill="#808000"/>
<circle cx="231.49" cy="398.30" r="2.70" fill="#808000"/>
<circle cx="238.66" cy="394.70" r="2.70" fill="#808000"/>
<circle cx="244.88" cy="390.50" r="2.70" fill="#808000"/>
<circle cx="250.37" cy="386.10" r="2.70" fill="#808000"/>
<circle cx="255.27" cy="381.40" r="2.70" fill="#808000"/>
<circle cx="265.66" cy="376.80" r="2.70" fill="#808000"/>
<circle cx="274.15" cy="372.10" r="2.70" fill="#808000"/>
<circle cx="281.32" cy="367.40" r="2.70" fill="#808000"/>
<circle cx="287.54" cy="363.50" r="2.70" fill="#808000"/>
<circle cx="293.02" cy="359.60" r="2.70" fill="#808000"/>
<circle cx="297.93" cy="355.70" r="2.70" fill="#808000"/>
<circle cx="302.37" cy="353.40" r="2.70" fill="#808000"/>
<circle cx="306.42" cy="349.50" r="2.70" fill="#808000"/>
<circle cx="310.14" cy="346.30" r="2.70" fill="#808000"/>
<circle cx="313.59" cy="343.20" r="2.70" fill="#808000"/>
<circle cx="316.81" cy="340.10" r="2.70" fill="#808000"/>
<circle cx="319.81" cy="337.00" r="2.70" fill="#808000"/>
<circle cx="322.63" cy="333.90" r="2.70" fill="#808000"/>
<circle cx="325.29" cy="330.70" r="2.70" fill="#808000"/>
<circle cx="327.81" cy="328.40" r="2.70" fill="#808000"/>
<circle cx="330.20" cy="326.10" r="2.70" fill="#808000"/>
<line x1="59.7" y1="484.4" x2="250" y2="388" stroke="#ff3030" stroke-width="0.8"/>
<line x1="212.5" y1="414.2" x2="331" y2="331" stroke="#ff3030" stroke-width="0.8"/>
<path d="M59.75 491.69L66.68 490.82L73.62 489.68L80.55 488.17L87.49 486.29L94.42 484.23L101.36 481.97L108.29 479.63L115.22 477.28L122.16 474.97L129.09 472.78L136.03 470.69L142.96 468.75L149.90 466.90L156.83 464.97L163.77 462.85L170.70 460.51L177.64 457.99L184.57 455.27L191.51 452.38L198.44 449.23L205.38 445.82L212.31 442.36L219.25 438.79L226.18 435.00L233.11 430.83L240.05 426.55L246.98 422.39L253.92 418.29L260.85 414.03L267.79 409.80L274.72 405.55L281.66 401.56L288.59 397.42L295.53 393.16L302.46 388.68L309.40 384.04L316.33 379.91L323.27 376.47L330.20 373.58" fill="none" stroke="#ff3030" stroke-width="0.8"/>
<line x1="59.7" y1="504" x2="244.6" y2="451.8" stroke="#ff3030" stroke-width="0.8"/>
<line x1="213" y1="460" x2="331.8" y2="389.2" stroke="#ff3030" stroke-width="0.8"/>
<line x1="59.7" y1="511" x2="250" y2="466" stroke="#ff3030" stroke-width="0.8"/>
<line x1="212.9" y1="495.2" x2="331" y2="407" stroke="#ff3030" stroke-width="0.8"/>
<line x1="59.7" y1="518.5" x2="245.3" y2="494.8" stroke="#ff3030" stroke-width="0.8"/>
<line x1="212.9" y1="502.9" x2="330.5" y2="443.7" stroke="#ff3030" stroke-width="0.8"/>
<line x1="59.7" y1="526" x2="245" y2="503" stroke="#ff3030" stroke-width="0.8"/>
<line x1="212.9" y1="515" x2="330.5" y2="465.2" stroke="#ff3030" stroke-width="0.8"/>
<line x1="59.7" y1="533.5" x2="245" y2="514" stroke="#ff3030" stroke-width="0.8"/>
<line x1="212.9" y1="528.5" x2="330.5" y2="480" stroke="#ff3030" stroke-width="0.8"/>
<line x1="59.7" y1="541" x2="245" y2="520" stroke="#ff3030" stroke-width="0.8"/>
<line x1="232.3" y1="526.2" x2="330.5" y2="490.3" stroke="#ff3030" stroke-width="0.8"/>
<rect x="52.00" y="305.70" width="282.80" height="243.30" fill="none" stroke="#000" stroke-width="1.5"/>
<path d="M59.75 549.00v-2.20M73.14 549.00v-2.20M83.53 549.00v-2.20M92.02 549.00v-2.20M99.19 549.00v-2.20M105.41 549.00v-2.20M110.89 549.00v-2.20M115.80 549.00v-3.80M148.07 549.00v-2.20M166.95 549.00v-2.20M180.34 549.00v-2.20M190.73 549.00v-2.20M199.22 549.00v-2.20M206.39 549.00v-2.20M212.61 549.00v-2.20M218.09 549.00v-2.20M223.00 549.00v-3.80M255.27 549.00v-2.20M274.15 549.00v-2.20M287.54 549.00v-2.20M297.93 549.00v-2.20M306.42 549.00v-2.20M313.59 549.00v-2.20M319.81 549.00v-2.20M325.29 549.00v-2.20M330.20 549.00v-3.80M52.00 530.71h2.20M52.00 520.00h2.20M52.00 512.40h2.20M52.00 506.50h2.20M52.00 501.69h2.20M52.00 497.61h2.20M52.00 494.09h2.20M52.00 490.97h2.20M52.00 488.19h3.80M52.00 469.88h2.20M52.00 459.17h2.20M52.00 451.57h2.20M52.00 445.67h2.20M52.00 440.86h2.20M52.00 436.78h2.20M52.00 433.26h2.20M52.00 430.14h2.20M52.00 427.36h3.80M52.00 409.05h2.20M52.00 398.34h2.20M52.00 390.74h2.20M52.00 384.84h2.20M52.00 380.03h2.20M52.00 375.95h2.20M52.00 372.43h2.20M52.00 369.31h2.20M52.00 366.53h3.80M52.00 348.22h2.20M52.00 337.51h2.20M52.00 329.91h2.20M52.00 324.01h2.20M52.00 319.20h2.20M52.00 315.12h2.20M52.00 311.60h2.20M52.00 308.48h2.20" stroke="#000" stroke-width="1.2" fill="none"/>
<text x="116.10" y="564.10" font-size="13.8" text-anchor="middle">1</text>
<text x="223.30" y="564.10" font-size="13.8" text-anchor="middle">10</text>
<text x="330.50" y="564.10" font-size="13.8" text-anchor="middle">100</text>
<text x="39.40" y="310.50" font-size="13.8" text-anchor="end">10</text>
<text x="39.40" y="304.40" font-size="9.7">-2</text>
<text x="39.40" y="371.33" font-size="13.8" text-anchor="end">10</text>
<text x="39.40" y="365.23" font-size="9.7">-3</text>
<text x="39.40" y="432.16" font-size="13.8" text-anchor="end">10</text>
<text x="39.40" y="426.06" font-size="9.7">-4</text>
<text x="39.40" y="492.99" font-size="13.8" text-anchor="end">10</text>
<text x="39.40" y="486.89" font-size="9.7">-5</text>
<text x="39.40" y="553.82" font-size="13.8" text-anchor="end">10</text>
<text x="39.40" y="547.72" font-size="9.7">-6</text>
<text x="137.40" y="580.5" font-size="18.5" textLength="110.60" lengthAdjust="spacingAndGlyphs">Voltage, <tspan font-style="italic">V</tspan> (V)</text>
<text transform="translate(18.0,511.50) rotate(-90)" font-size="17.95" textLength="188.70" lengthAdjust="spacingAndGlyphs">Current density, <tspan font-style="italic">J</tspan>(Am<tspan font-size="11.8" dy="-6.82">-2</tspan><tspan dy="6.82">)</tspan></text>
<text x="209.6" y="325.6" font-size="20" text-anchor="middle">(c)</text>
<rect x="68.52" y="314.82" width="5.15" height="5.15" fill="#000000"/>
<text x="90.60" y="321.90" font-size="13.8">298 K</text>
<circle cx="71.10" cy="334.40" r="2.80" fill="#ff0000"/>
<text x="90.60" y="338.90" font-size="13.8">308 K</text>
<path d="M71.10 347.78L74.32 353.38H67.88Z" fill="#800000"/>
<text x="90.60" y="355.50" font-size="13.8">318 K</text>
<path d="M71.10 371.22L74.32 365.62H67.88Z" fill="#0000ff"/>
<text x="90.60" y="372.50" font-size="13.8">338 K</text>
<path d="M71.10 381.74L74.46 385.10L71.10 388.46L67.74 385.10Z" fill="#800080"/>
<text x="90.60" y="389.60" font-size="13.8">328 K</text>
<path d="M67.88 401.80L73.48 398.58V405.02Z" fill="#ff00ff"/>
<text x="90.60" y="406.30" font-size="13.8">348 K</text>
<path d="M74.32 418.80L68.72 415.58V422.02Z" fill="#000080"/>
<text x="90.60" y="423.30" font-size="13.8">358 K</text>
<circle cx="71.10" cy="436.00" r="2.80" fill="#808000"/>
<text x="90.60" y="440.50" font-size="13.8">373 K</text>
<rect x="419.87" y="537.12" width="4.97" height="4.97" fill="#000000"/>
<rect x="452.66" y="530.92" width="4.97" height="4.97" fill="#000000"/>
<rect x="471.83" y="526.72" width="4.97" height="4.97" fill="#000000"/>
<rect x="476.82" y="525.62" width="4.97" height="4.97" fill="#000000"/>
<rect x="485.44" y="524.12" width="4.97" height="4.97" fill="#000000"/>
<rect x="509.60" y="518.12" width="4.97" height="4.97" fill="#000000"/>
<rect x="528.77" y="514.52" width="4.97" height="4.97" fill="#000000"/>
<rect x="542.38" y="511.82" width="4.97" height="4.97" fill="#000000"/>
<rect x="552.93" y="510.32" width="4.97" height="4.97" fill="#000000"/>
<rect x="561.56" y="508.32" width="4.97" height="4.97" fill="#000000"/>
<rect x="568.85" y="506.72" width="4.97" height="4.97" fill="#000000"/>
<rect x="575.16" y="505.62" width="4.97" height="4.97" fill="#000000"/>
<rect x="580.73" y="504.72" width="4.97" height="4.97" fill="#000000"/>
<rect x="585.72" y="504.12" width="4.97" height="4.97" fill="#000000"/>
<rect x="594.34" y="501.02" width="4.97" height="4.97" fill="#000000"/>
<rect x="601.63" y="498.22" width="4.97" height="4.97" fill="#000000"/>
<rect x="607.94" y="495.12" width="4.97" height="4.97" fill="#000000"/>
<rect x="613.52" y="492.82" width="4.97" height="4.97" fill="#000000"/>
<rect x="618.50" y="490.42" width="4.97" height="4.97" fill="#000000"/>
<rect x="629.05" y="485.02" width="4.97" height="4.97" fill="#000000"/>
<rect x="637.67" y="479.32" width="4.97" height="4.97" fill="#000000"/>
<rect x="644.97" y="474.12" width="4.97" height="4.97" fill="#000000"/>
<rect x="651.28" y="467.92" width="4.97" height="4.97" fill="#000000"/>
<rect x="656.85" y="464.02" width="4.97" height="4.97" fill="#000000"/>
<rect x="661.83" y="459.42" width="4.97" height="4.97" fill="#000000"/>
<rect x="666.34" y="455.52" width="4.97" height="4.97" fill="#000000"/>
<rect x="670.46" y="452.42" width="4.97" height="4.97" fill="#000000"/>
<rect x="674.24" y="447.02" width="4.97" height="4.97" fill="#000000"/>
<rect x="677.75" y="443.12" width="4.97" height="4.97" fill="#000000"/>
<rect x="681.01" y="437.72" width="4.97" height="4.97" fill="#000000"/>
<rect x="684.06" y="435.32" width="4.97" height="4.97" fill="#000000"/>
<rect x="686.93" y="433.02" width="4.97" height="4.97" fill="#000000"/>
<rect x="689.63" y="430.72" width="4.97" height="4.97" fill="#000000"/>
<rect x="692.19" y="428.42" width="4.97" height="4.97" fill="#000000"/>
<rect x="694.62" y="425.82" width="4.97" height="4.97" fill="#000000"/>
<circle cx="422.36" cy="533.90" r="2.70" fill="#ff0000"/>
<circle cx="455.14" cy="527.70" r="2.70" fill="#ff0000"/>
<circle cx="474.32" cy="523.50" r="2.70" fill="#ff0000"/>
<circle cx="479.30" cy="521.50" r="2.70" fill="#ff0000"/>
<circle cx="487.92" cy="520.40" r="2.70" fill="#ff0000"/>
<circle cx="512.08" cy="515.50" r="2.70" fill="#ff0000"/>
<circle cx="531.26" cy="511.50" r="2.70" fill="#ff0000"/>
<circle cx="544.86" cy="509.70" r="2.70" fill="#ff0000"/>
<circle cx="555.42" cy="506.10" r="2.70" fill="#ff0000"/>
<circle cx="564.04" cy="505.00" r="2.70" fill="#ff0000"/>
<circle cx="571.33" cy="503.80" r="2.70" fill="#ff0000"/>
<circle cx="577.65" cy="500.70" r="2.70" fill="#ff0000"/>
<circle cx="583.22" cy="499.90" r="2.70" fill="#ff0000"/>
<circle cx="588.20" cy="496.30" r="2.70" fill="#ff0000"/>
<circle cx="596.82" cy="494.20" r="2.70" fill="#ff0000"/>
<circle cx="604.11" cy="491.40" r="2.70" fill="#ff0000"/>
<circle cx="610.43" cy="490.20" r="2.70" fill="#ff0000"/>
<circle cx="616.00" cy="485.50" r="2.70" fill="#ff0000"/>
<circle cx="620.98" cy="482.80" r="2.70" fill="#ff0000"/>
<circle cx="631.54" cy="478.20" r="2.70" fill="#ff0000"/>
<circle cx="640.16" cy="471.20" r="2.70" fill="#ff0000"/>
<circle cx="647.45" cy="464.20" r="2.70" fill="#ff0000"/>
<circle cx="653.76" cy="459.60" r="2.70" fill="#ff0000"/>
<circle cx="659.33" cy="454.10" r="2.70" fill="#ff0000"/>
<circle cx="664.32" cy="447.90" r="2.70" fill="#ff0000"/>
<circle cx="668.83" cy="443.30" r="2.70" fill="#ff0000"/>
<circle cx="672.94" cy="436.00" r="2.70" fill="#ff0000"/>
<circle cx="676.73" cy="428.50" r="2.70" fill="#ff0000"/>
<circle cx="680.23" cy="422.50" r="2.70" fill="#ff0000"/>
<circle cx="683.49" cy="417.00" r="2.70" fill="#ff0000"/>
<circle cx="686.55" cy="412.50" r="2.70" fill="#ff0000"/>
<circle cx="689.41" cy="408.00" r="2.70" fill="#ff0000"/>
<circle cx="692.12" cy="403.50" r="2.70" fill="#ff0000"/>
<circle cx="694.67" cy="400.50" r="2.70" fill="#ff0000"/>
<circle cx="697.10" cy="398.00" r="2.70" fill="#ff0000"/>
<path d="M422.36 527.69L425.46 533.09H419.25Z" fill="#800000"/>
<path d="M455.14 519.39L458.25 524.79H452.04Z" fill="#800000"/>
<path d="M474.32 512.89L477.42 518.29H471.21Z" fill="#800000"/>
<path d="M479.30 512.19L482.41 517.59H476.19Z" fill="#800000"/>
<path d="M487.92 509.50L491.03 514.89H484.82Z" fill="#800000"/>
<path d="M512.08 503.29L515.19 508.69H508.98Z" fill="#800000"/>
<path d="M531.26 498.39L534.36 503.80H528.15Z" fill="#800000"/>
<path d="M544.86 494.50L547.97 499.90H541.76Z" fill="#800000"/>
<path d="M555.42 492.19L558.52 497.60H552.31Z" fill="#800000"/>
<path d="M564.04 490.09L567.15 495.50H560.94Z" fill="#800000"/>
<path d="M571.33 487.50L574.44 492.90H568.23Z" fill="#800000"/>
<path d="M577.65 485.89L580.75 491.30H574.54Z" fill="#800000"/>
<path d="M583.22 484.39L586.32 489.80H580.11Z" fill="#800000"/>
<path d="M588.20 483.29L591.31 488.69H585.10Z" fill="#800000"/>
<path d="M596.82 478.19L599.93 483.60H593.72Z" fill="#800000"/>
<path d="M604.11 474.69L607.22 480.10H601.01Z" fill="#800000"/>
<path d="M610.43 468.89L613.53 474.30H607.32Z" fill="#800000"/>
<path d="M616.00 465.69L619.10 471.10H612.89Z" fill="#800000"/>
<path d="M620.98 461.89L624.09 467.30H617.88Z" fill="#800000"/>
<path d="M631.54 460.29L634.64 465.69H628.43Z" fill="#800000"/>
<path d="M640.16 452.59L643.26 458.00H637.05Z" fill="#800000"/>
<path d="M647.45 446.39L650.55 451.80H644.34Z" fill="#800000"/>
<path d="M653.76 440.19L656.87 445.60H650.66Z" fill="#800000"/>
<path d="M659.33 433.19L662.44 438.60H656.23Z" fill="#800000"/>
<path d="M664.32 431.89L667.42 437.30H661.21Z" fill="#800000"/>
<path d="M668.83 425.39L671.93 430.80H665.72Z" fill="#800000"/>
<path d="M672.94 420.89L676.05 426.30H669.84Z" fill="#800000"/>
<path d="M676.73 416.89L679.83 422.30H673.62Z" fill="#800000"/>
<path d="M680.23 410.89L683.34 416.30H677.13Z" fill="#800000"/>
<path d="M683.49 405.89L686.60 411.30H680.39Z" fill="#800000"/>
<path d="M686.55 401.89L689.65 407.30H683.44Z" fill="#800000"/>
<path d="M689.41 398.39L692.52 403.80H686.31Z" fill="#800000"/>
<path d="M692.12 394.89L695.22 400.30H689.01Z" fill="#800000"/>
<path d="M694.67 391.89L697.78 397.30H691.57Z" fill="#800000"/>
<path d="M697.10 388.89L700.21 394.30H694.00Z" fill="#800000"/>
<path d="M422.36 524.11L425.46 518.71H419.25Z" fill="#0000ff"/>
<path d="M455.14 517.31L458.25 511.91H452.04Z" fill="#0000ff"/>
<path d="M474.32 511.41L477.42 506.00H471.21Z" fill="#0000ff"/>
<path d="M479.30 510.61L482.41 505.20H476.19Z" fill="#0000ff"/>
<path d="M487.92 508.00L491.03 502.60H484.82Z" fill="#0000ff"/>
<path d="M512.08 502.61L515.19 497.20H508.98Z" fill="#0000ff"/>
<path d="M531.26 498.41L534.36 493.00H528.15Z" fill="#0000ff"/>
<path d="M544.86 494.81L547.97 489.40H541.76Z" fill="#0000ff"/>
<path d="M555.42 492.61L558.52 487.20H552.31Z" fill="#0000ff"/>
<path d="M564.04 489.81L567.15 484.40H560.94Z" fill="#0000ff"/>
<path d="M571.33 488.31L574.44 482.90H568.23Z" fill="#0000ff"/>
<path d="M577.65 486.71L580.75 481.31H574.54Z" fill="#0000ff"/>
<path d="M583.22 483.61L586.32 478.20H580.11Z" fill="#0000ff"/>
<path d="M588.20 481.31L591.31 475.90H585.10Z" fill="#0000ff"/>
<path d="M596.82 478.21L599.93 472.81H593.72Z" fill="#0000ff"/>
<path d="M604.11 474.61L607.22 469.20H601.01Z" fill="#0000ff"/>
<path d="M610.43 471.61L613.53 466.20H607.32Z" fill="#0000ff"/>
<path d="M616.00 468.61L619.10 463.20H612.89Z" fill="#0000ff"/>
<path d="M620.98 464.61L624.09 459.20H617.88Z" fill="#0000ff"/>
<path d="M631.54 460.31L634.64 454.90H628.43Z" fill="#0000ff"/>
<path d="M640.16 453.41L643.26 448.00H637.05Z" fill="#0000ff"/>
<path d="M647.45 447.11L650.55 441.70H644.34Z" fill="#0000ff"/>
<path d="M653.76 440.61L656.87 435.20H650.66Z" fill="#0000ff"/>
<path d="M659.33 433.11L662.44 427.70H656.23Z" fill="#0000ff"/>
<path d="M664.32 429.11L667.42 423.70H661.21Z" fill="#0000ff"/>
<path d="M668.83 425.11L671.93 419.70H665.72Z" fill="#0000ff"/>
<path d="M672.94 419.11L676.05 413.70H669.84Z" fill="#0000ff"/>
<path d="M676.73 414.11L679.83 408.70H673.62Z" fill="#0000ff"/>
<path d="M680.23 406.11L683.34 400.70H677.13Z" fill="#0000ff"/>
<path d="M683.49 400.11L686.60 394.70H680.39Z" fill="#0000ff"/>
<path d="M686.55 393.11L689.65 387.70H683.44Z" fill="#0000ff"/>
<path d="M689.41 387.11L692.52 381.70H686.31Z" fill="#0000ff"/>
<path d="M692.12 382.11L695.22 376.70H689.01Z" fill="#0000ff"/>
<path d="M694.67 377.11L697.78 371.70H691.57Z" fill="#0000ff"/>
<path d="M697.10 371.11L700.21 365.70H694.00Z" fill="#0000ff"/>
<path d="M422.36 512.46L425.60 515.70L422.36 518.94L419.12 515.70Z" fill="#000080"/>
<path d="M455.14 506.26L458.38 509.50L455.14 512.74L451.90 509.50Z" fill="#000080"/>
<path d="M474.32 498.86L477.56 502.10L474.32 505.34L471.08 502.10Z" fill="#000080"/>
<path d="M479.30 500.06L482.54 503.30L479.30 506.54L476.06 503.30Z" fill="#000080"/>
<path d="M487.92 497.56L491.16 500.80L487.92 504.04L484.68 500.80Z" fill="#000080"/>
<path d="M512.08 491.56L515.32 494.80L512.08 498.04L508.84 494.80Z" fill="#000080"/>
<path d="M531.26 484.26L534.50 487.50L531.26 490.74L528.02 487.50Z" fill="#000080"/>
<path d="M544.86 481.96L548.10 485.20L544.86 488.44L541.62 485.20Z" fill="#000080"/>
<path d="M555.42 478.86L558.66 482.10L555.42 485.34L552.18 482.10Z" fill="#000080"/>
<path d="M564.04 476.46L567.28 479.70L564.04 482.94L560.80 479.70Z" fill="#000080"/>
<path d="M571.33 474.96L574.57 478.20L571.33 481.44L568.09 478.20Z" fill="#000080"/>
<path d="M577.65 473.36L580.89 476.60L577.65 479.84L574.41 476.60Z" fill="#000080"/>
<path d="M583.22 470.76L586.46 474.00L583.22 477.24L579.98 474.00Z" fill="#000080"/>
<path d="M588.20 469.86L591.44 473.10L588.20 476.34L584.96 473.10Z" fill="#000080"/>
<path d="M596.82 465.66L600.06 468.90L596.82 472.14L593.58 468.90Z" fill="#000080"/>
<path d="M604.11 462.16L607.35 465.40L604.11 468.64L600.87 465.40Z" fill="#000080"/>
<path d="M610.43 458.06L613.67 461.30L610.43 464.54L607.19 461.30Z" fill="#000080"/>
<path d="M616.00 456.26L619.24 459.50L616.00 462.74L612.76 459.50Z" fill="#000080"/>
<path d="M620.98 452.46L624.22 455.70L620.98 458.94L617.74 455.70Z" fill="#000080"/>
<path d="M631.54 446.26L634.78 449.50L631.54 452.74L628.30 449.50Z" fill="#000080"/>
<path d="M640.16 441.56L643.40 444.80L640.16 448.04L636.92 444.80Z" fill="#000080"/>
<path d="M647.45 438.46L650.69 441.70L647.45 444.94L644.21 441.70Z" fill="#000080"/>
<path d="M653.76 430.76L657.00 434.00L653.76 437.24L650.52 434.00Z" fill="#000080"/>
<path d="M659.33 424.76L662.57 428.00L659.33 431.24L656.09 428.00Z" fill="#000080"/>
<path d="M664.32 421.26L667.56 424.50L664.32 427.74L661.08 424.50Z" fill="#000080"/>
<path d="M668.83 414.76L672.07 418.00L668.83 421.24L665.59 418.00Z" fill="#000080"/>
<path d="M672.94 403.76L676.18 407.00L672.94 410.24L669.70 407.00Z" fill="#000080"/>
<path d="M676.73 396.76L679.97 400.00L676.73 403.24L673.49 400.00Z" fill="#000080"/>
<path d="M680.23 388.76L683.47 392.00L680.23 395.24L676.99 392.00Z" fill="#000080"/>
<path d="M683.49 382.76L686.73 386.00L683.49 389.24L680.25 386.00Z" fill="#000080"/>
<path d="M686.55 378.26L689.79 381.50L686.55 384.74L683.31 381.50Z" fill="#000080"/>
<path d="M689.41 374.26L692.65 377.50L689.41 380.74L686.17 377.50Z" fill="#000080"/>
<path d="M692.12 370.26L695.36 373.50L692.12 376.74L688.88 373.50Z" fill="#000080"/>
<path d="M694.67 366.76L697.91 370.00L694.67 373.24L691.43 370.00Z" fill="#000080"/>
<path d="M697.10 362.76L700.34 366.00L697.10 369.24L693.86 366.00Z" fill="#000080"/>
<path d="M419.25 514.20L424.65 511.10V517.31Z" fill="#ff00ff"/>
<path d="M452.04 506.40L457.44 503.29V509.50Z" fill="#ff00ff"/>
<path d="M471.21 499.70L476.61 496.59V502.81Z" fill="#ff00ff"/>
<path d="M476.19 498.70L481.60 495.59V501.81Z" fill="#ff00ff"/>
<path d="M484.82 496.60L490.22 493.50V499.71Z" fill="#ff00ff"/>
<path d="M508.98 491.40L514.38 488.29V494.50Z" fill="#ff00ff"/>
<path d="M528.15 483.60L533.55 480.50V486.71Z" fill="#ff00ff"/>
<path d="M541.76 481.30L547.16 478.19V484.41Z" fill="#ff00ff"/>
<path d="M552.31 479.00L557.71 475.89V482.11Z" fill="#ff00ff"/>
<path d="M560.94 475.90L566.34 472.79V479.00Z" fill="#ff00ff"/>
<path d="M568.23 472.00L573.63 468.89V475.11Z" fill="#ff00ff"/>
<path d="M574.54 469.70L579.94 466.59V472.81Z" fill="#ff00ff"/>
<path d="M580.11 467.30L585.51 464.19V470.41Z" fill="#ff00ff"/>
<path d="M585.10 464.20L590.50 461.09V467.31Z" fill="#ff00ff"/>
<path d="M593.72 457.20L599.12 454.09V460.31Z" fill="#ff00ff"/>
<path d="M601.01 452.60L606.41 449.50V455.71Z" fill="#ff00ff"/>
<path d="M607.32 447.90L612.72 444.79V451.00Z" fill="#ff00ff"/>
<path d="M612.89 441.70L618.29 438.59V444.81Z" fill="#ff00ff"/>
<path d="M617.88 436.30L623.28 433.19V439.41Z" fill="#ff00ff"/>
<path d="M628.43 427.00L633.83 423.89V430.11Z" fill="#ff00ff"/>
<path d="M637.05 422.00L642.45 418.89V425.11Z" fill="#ff00ff"/>
<path d="M644.34 415.50L649.74 412.39V418.61Z" fill="#ff00ff"/>
<path d="M650.66 409.50L656.06 406.39V412.61Z" fill="#ff00ff"/>
<path d="M656.23 405.00L661.63 401.89V408.11Z" fill="#ff00ff"/>
<path d="M661.21 401.00L666.61 397.89V404.11Z" fill="#ff00ff"/>
<path d="M665.72 395.00L671.12 391.89V398.11Z" fill="#ff00ff"/>
<path d="M669.84 389.00L675.24 385.89V392.11Z" fill="#ff00ff"/>
<path d="M673.62 385.00L679.02 381.89V388.11Z" fill="#ff00ff"/>
<path d="M677.13 381.00L682.53 377.89V384.11Z" fill="#ff00ff"/>
<path d="M680.39 377.00L685.79 373.89V380.11Z" fill="#ff00ff"/>
<path d="M683.44 373.50L688.84 370.39V376.61Z" fill="#ff00ff"/>
<path d="M686.31 370.00L691.71 366.89V373.11Z" fill="#ff00ff"/>
<path d="M689.01 366.50L694.41 363.39V369.61Z" fill="#ff00ff"/>
<path d="M691.57 363.00L696.97 359.89V366.11Z" fill="#ff00ff"/>
<path d="M694.00 359.50L699.39 356.39V362.61Z" fill="#ff00ff"/>
<path d="M425.46 509.80L420.06 506.69V512.90Z" fill="#008000"/>
<path d="M458.25 498.70L452.85 495.59V501.81Z" fill="#008000"/>
<path d="M477.42 491.20L472.02 488.09V494.31Z" fill="#008000"/>
<path d="M482.41 489.70L477.00 486.59V492.81Z" fill="#008000"/>
<path d="M491.03 488.40L485.63 485.29V491.50Z" fill="#008000"/>
<path d="M515.19 479.30L509.79 476.19V482.41Z" fill="#008000"/>
<path d="M534.36 470.40L528.96 467.29V473.50Z" fill="#008000"/>
<path d="M547.97 466.20L542.57 463.09V469.31Z" fill="#008000"/>
<path d="M558.52 462.70L553.12 459.59V465.81Z" fill="#008000"/>
<path d="M567.15 458.50L561.75 455.39V461.61Z" fill="#008000"/>
<path d="M574.44 456.00L569.04 452.89V459.11Z" fill="#008000"/>
<path d="M580.75 454.40L575.35 451.29V457.50Z" fill="#008000"/>
<path d="M586.32 451.80L580.92 448.69V454.91Z" fill="#008000"/>
<path d="M591.31 449.20L585.91 446.09V452.31Z" fill="#008000"/>
<path d="M599.93 447.20L594.53 444.09V450.31Z" fill="#008000"/>
<path d="M607.22 441.70L601.82 438.59V444.81Z" fill="#008000"/>
<path d="M613.53 439.40L608.13 436.29V442.50Z" fill="#008000"/>
<path d="M619.10 435.50L613.70 432.39V438.61Z" fill="#008000"/>
<path d="M624.09 430.10L618.69 427.00V433.21Z" fill="#008000"/>
<path d="M634.64 420.20L629.24 417.09V423.31Z" fill="#008000"/>
<path d="M643.26 407.20L637.86 404.09V410.31Z" fill="#008000"/>
<path d="M650.55 400.20L645.15 397.09V403.31Z" fill="#008000"/>
<path d="M656.87 389.30L651.47 386.19V392.41Z" fill="#008000"/>
<path d="M662.44 383.90L657.04 380.79V387.00Z" fill="#008000"/>
<path d="M667.42 378.50L662.02 375.39V381.61Z" fill="#008000"/>
<path d="M671.93 373.00L666.53 369.89V376.11Z" fill="#008000"/>
<path d="M676.05 368.40L670.65 365.29V371.50Z" fill="#008000"/>
<path d="M679.83 363.70L674.43 360.59V366.81Z" fill="#008000"/>
<path d="M683.34 357.50L677.94 354.39V360.61Z" fill="#008000"/>
<path d="M686.60 352.10L681.20 349.00V355.21Z" fill="#008000"/>
<path d="M689.65 345.10L684.25 342.00V348.21Z" fill="#008000"/>
<path d="M692.52 338.90L687.12 335.79V342.00Z" fill="#008000"/>
<path d="M695.22 333.50L689.82 330.39V336.61Z" fill="#008000"/>
<path d="M697.78 328.80L692.38 325.69V331.91Z" fill="#008000"/>
<path d="M700.21 324.90L694.81 321.79V328.00Z" fill="#008000"/>
<circle cx="422.36" cy="504.90" r="2.70" fill="#808000"/>
<circle cx="455.14" cy="491.20" r="2.70" fill="#808000"/>
<circle cx="474.32" cy="482.20" r="2.70" fill="#808000"/>
<circle cx="479.30" cy="479.60" r="2.70" fill="#808000"/>
<circle cx="487.92" cy="476.90" r="2.70" fill="#808000"/>
<circle cx="512.08" cy="466.30" r="2.70" fill="#808000"/>
<circle cx="531.26" cy="458.00" r="2.70" fill="#808000"/>
<circle cx="544.86" cy="449.80" r="2.70" fill="#808000"/>
<circle cx="555.42" cy="446.40" r="2.70" fill="#808000"/>
<circle cx="564.04" cy="439.90" r="2.70" fill="#808000"/>
<circle cx="571.33" cy="436.30" r="2.70" fill="#808000"/>
<circle cx="577.65" cy="432.40" r="2.70" fill="#808000"/>
<circle cx="583.22" cy="428.50" r="2.70" fill="#808000"/>
<circle cx="588.20" cy="427.50" r="2.70" fill="#808000"/>
<circle cx="596.82" cy="422.30" r="2.70" fill="#808000"/>
<circle cx="604.11" cy="417.30" r="2.70" fill="#808000"/>
<circle cx="610.43" cy="411.10" r="2.70" fill="#808000"/>
<circle cx="616.00" cy="407.20" r="2.70" fill="#808000"/>
<circle cx="620.98" cy="403.30" r="2.70" fill="#808000"/>
<circle cx="631.54" cy="394.80" r="2.70" fill="#808000"/>
<circle cx="640.16" cy="388.60" r="2.70" fill="#808000"/>
<circle cx="647.45" cy="383.10" r="2.70" fill="#808000"/>
<circle cx="653.76" cy="378.50" r="2.70" fill="#808000"/>
<circle cx="659.33" cy="374.60" r="2.70" fill="#808000"/>
<circle cx="664.32" cy="368.40" r="2.70" fill="#808000"/>
<circle cx="668.83" cy="364.50" r="2.70" fill="#808000"/>
<circle cx="672.94" cy="358.30" r="2.70" fill="#808000"/>
<circle cx="676.73" cy="356.00" r="2.70" fill="#808000"/>
<circle cx="680.23" cy="349.00" r="2.70" fill="#808000"/>
<circle cx="683.49" cy="345.10" r="2.70" fill="#808000"/>
<circle cx="686.55" cy="338.90" r="2.70" fill="#808000"/>
<circle cx="689.41" cy="333.50" r="2.70" fill="#808000"/>
<circle cx="692.12" cy="328.80" r="2.70" fill="#808000"/>
<circle cx="694.67" cy="323.40" r="2.70" fill="#808000"/>
<circle cx="697.10" cy="319.50" r="2.70" fill="#808000"/>
<line x1="422.4" y1="505.5" x2="610" y2="418" stroke="#ff3030" stroke-width="0.8"/>
<line x1="422.4" y1="512.2" x2="615" y2="441.7" stroke="#ff3030" stroke-width="0.8"/>
<line x1="422.4" y1="517" x2="615" y2="463" stroke="#ff3030" stroke-width="0.8"/>
<line x1="422.4" y1="516" x2="615" y2="468" stroke="#ff3030" stroke-width="0.8"/>
<line x1="422.4" y1="521.5" x2="615" y2="474" stroke="#ff3030" stroke-width="0.8"/>
<line x1="422.4" y1="532" x2="615" y2="480" stroke="#ff3030" stroke-width="0.8"/>
<line x1="422.4" y1="533.5" x2="615" y2="490" stroke="#ff3030" stroke-width="0.8"/>
<line x1="422.4" y1="539.3" x2="615" y2="494" stroke="#ff3030" stroke-width="0.8"/>
<line x1="603.5" y1="516.3" x2="697" y2="429" stroke="#ff3030" stroke-width="0.8"/>
<line x1="576.7" y1="515.5" x2="697" y2="398" stroke="#ff3030" stroke-width="0.8"/>
<line x1="577.5" y1="514" x2="697" y2="392" stroke="#ff3030" stroke-width="0.8"/>
<line x1="585" y1="500" x2="697" y2="368" stroke="#ff3030" stroke-width="0.8"/>
<line x1="590" y1="490" x2="697" y2="363" stroke="#ff3030" stroke-width="0.8"/>
<line x1="585" y1="470" x2="697" y2="358" stroke="#ff3030" stroke-width="0.8"/>
<line x1="590" y1="467" x2="697" y2="330" stroke="#ff3030" stroke-width="0.8"/>
<line x1="582.6" y1="441.9" x2="697" y2="329" stroke="#ff3030" stroke-width="0.8"/>
<rect x="414.20" y="304.10" width="286.60" height="243.50" fill="none" stroke="#000" stroke-width="1.5"/>
<path d="M422.36 547.60v-2.20M435.96 547.60v-2.20M446.52 547.60v-2.20M455.14 547.60v-2.20M462.43 547.60v-2.20M468.75 547.60v-2.20M474.32 547.60v-2.20M479.30 547.60v-3.80M512.08 547.60v-2.20M531.26 547.60v-2.20M544.86 547.60v-2.20M555.42 547.60v-2.20M564.04 547.60v-2.20M571.33 547.60v-2.20M577.65 547.60v-2.20M583.22 547.60v-2.20M588.20 547.60v-3.80M620.98 547.60v-2.20M640.16 547.60v-2.20M653.76 547.60v-2.20M664.32 547.60v-2.20M672.94 547.60v-2.20M680.23 547.60v-2.20M686.55 547.60v-2.20M692.12 547.60v-2.20M697.10 547.60v-3.80M414.20 541.46h2.20M414.20 536.55h2.20M414.20 532.54h2.20M414.20 529.15h2.20M414.20 526.21h2.20M414.20 523.62h2.20M414.20 521.30h3.80M414.20 506.05h2.20M414.20 497.13h2.20M414.20 490.81h2.20M414.20 485.90h2.20M414.20 481.89h2.20M414.20 478.50h2.20M414.20 475.56h2.20M414.20 472.97h2.20M414.20 470.65h3.80M414.20 455.40h2.20M414.20 446.48h2.20M414.20 440.16h2.20M414.20 435.25h2.20M414.20 431.24h2.20M414.20 427.85h2.20M414.20 424.91h2.20M414.20 422.32h2.20M414.20 420.00h3.80M414.20 404.75h2.20M414.20 395.83h2.20M414.20 389.51h2.20M414.20 384.60h2.20M414.20 380.59h2.20M414.20 377.20h2.20M414.20 374.26h2.20M414.20 371.67h2.20M414.20 369.35h3.80M414.20 354.10h2.20M414.20 345.18h2.20M414.20 338.86h2.20M414.20 333.95h2.20M414.20 329.94h2.20M414.20 326.55h2.20M414.20 323.61h2.20M414.20 321.02h2.20M414.20 318.70h3.80" stroke="#000" stroke-width="1.2" fill="none"/>
<text x="479.60" y="562.70" font-size="13.8" text-anchor="middle">1</text>
<text x="588.50" y="562.70" font-size="13.8" text-anchor="middle">10</text>
<text x="697.40" y="562.70" font-size="13.8" text-anchor="middle">100</text>
<text x="401.60" y="323.50" font-size="13.8" text-anchor="end">10</text>
<text x="401.60" y="317.40" font-size="9.7">-2</text>
<text x="401.60" y="374.15" font-size="13.8" text-anchor="end">10</text>
<text x="401.60" y="368.05" font-size="9.7">-3</text>
<text x="401.60" y="424.80" font-size="13.8" text-anchor="end">10</text>
<text x="401.60" y="418.70" font-size="9.7">-4</text>
<text x="401.60" y="475.45" font-size="13.8" text-anchor="end">10</text>
<text x="401.60" y="469.35" font-size="9.7">-5</text>
<text x="401.60" y="526.10" font-size="13.8" text-anchor="end">10</text>
<text x="401.60" y="520.00" font-size="9.7">-6</text>
<text x="502.30" y="582.9" font-size="18.5" textLength="109.80" lengthAdjust="spacingAndGlyphs">Voltage, <tspan font-style="italic">V</tspan> (V)</text>
<text transform="translate(377.5,508.80) rotate(-90)" font-size="17.95" textLength="186.10" lengthAdjust="spacingAndGlyphs">Current density, <tspan font-style="italic">J</tspan>(Am<tspan font-size="11.8" dy="-6.82">-2</tspan><tspan dy="6.82">)</tspan></text>
<text x="593.9" y="323.8" font-size="20" text-anchor="middle">(d)</text>
<rect x="433.12" y="314.82" width="5.15" height="5.15" fill="#000000"/>
<text x="454.50" y="321.90" font-size="13.8">298 K</text>
<circle cx="435.70" cy="334.60" r="2.80" fill="#ff0000"/>
<text x="454.50" y="339.10" font-size="13.8">308 K</text>
<path d="M435.70 347.78L438.92 353.38H432.48Z" fill="#800000"/>
<text x="454.50" y="355.50" font-size="13.8">318 K</text>
<path d="M435.70 371.32L438.92 365.72H432.48Z" fill="#0000ff"/>
<text x="454.50" y="372.60" font-size="13.8">328 K</text>
<path d="M435.70 381.64L439.06 385.00L435.70 388.36L432.34 385.00Z" fill="#000080"/>
<text x="454.50" y="389.50" font-size="13.8">338 K</text>
<path d="M432.48 401.40L438.08 398.18V404.62Z" fill="#ff00ff"/>
<text x="454.50" y="405.90" font-size="13.8">348 K</text>
<path d="M438.92 418.30L433.32 415.08V421.52Z" fill="#008000"/>
<text x="454.50" y="422.80" font-size="13.8">358 K</text>
<circle cx="435.70" cy="435.30" r="2.80" fill="#808000"/>
<text x="454.50" y="439.80" font-size="13.8">373 K</text>
<rect x="58.65" y="829.62" width="4.97" height="4.97" fill="#000000"/>
<rect x="91.16" y="822.52" width="4.97" height="4.97" fill="#000000"/>
<rect x="110.17" y="818.72" width="4.97" height="4.97" fill="#000000"/>
<rect x="115.12" y="817.22" width="4.97" height="4.97" fill="#000000"/>
<rect x="123.67" y="815.92" width="4.97" height="4.97" fill="#000000"/>
<rect x="147.63" y="810.62" width="4.97" height="4.97" fill="#000000"/>
<rect x="166.65" y="807.52" width="4.97" height="4.97" fill="#000000"/>
<rect x="180.14" y="804.42" width="4.97" height="4.97" fill="#000000"/>
<rect x="190.60" y="802.52" width="4.97" height="4.97" fill="#000000"/>
<rect x="199.16" y="800.92" width="4.97" height="4.97" fill="#000000"/>
<rect x="206.39" y="799.12" width="4.97" height="4.97" fill="#000000"/>
<rect x="212.65" y="797.12" width="4.97" height="4.97" fill="#000000"/>
<rect x="218.17" y="796.32" width="4.97" height="4.97" fill="#000000"/>
<rect x="223.12" y="794.72" width="4.97" height="4.97" fill="#000000"/>
<rect x="231.67" y="793.22" width="4.97" height="4.97" fill="#000000"/>
<rect x="238.90" y="790.72" width="4.97" height="4.97" fill="#000000"/>
<rect x="245.16" y="788.22" width="4.97" height="4.97" fill="#000000"/>
<rect x="250.69" y="785.22" width="4.97" height="4.97" fill="#000000"/>
<rect x="255.63" y="782.82" width="4.97" height="4.97" fill="#000000"/>
<rect x="266.09" y="777.72" width="4.97" height="4.97" fill="#000000"/>
<rect x="274.65" y="771.72" width="4.97" height="4.97" fill="#000000"/>
<rect x="281.88" y="766.62" width="4.97" height="4.97" fill="#000000"/>
<rect x="288.14" y="760.22" width="4.97" height="4.97" fill="#000000"/>
<rect x="293.66" y="756.62" width="4.97" height="4.97" fill="#000000"/>
<rect x="298.60" y="752.52" width="4.97" height="4.97" fill="#000000"/>
<rect x="303.08" y="748.02" width="4.97" height="4.97" fill="#000000"/>
<rect x="307.16" y="744.82" width="4.97" height="4.97" fill="#000000"/>
<rect x="310.91" y="739.22" width="4.97" height="4.97" fill="#000000"/>
<rect x="314.39" y="735.52" width="4.97" height="4.97" fill="#000000"/>
<rect x="317.62" y="731.02" width="4.97" height="4.97" fill="#000000"/>
<rect x="320.65" y="728.82" width="4.97" height="4.97" fill="#000000"/>
<rect x="323.49" y="726.62" width="4.97" height="4.97" fill="#000000"/>
<rect x="326.17" y="722.92" width="4.97" height="4.97" fill="#000000"/>
<rect x="328.71" y="720.62" width="4.97" height="4.97" fill="#000000"/>
<rect x="331.12" y="718.42" width="4.97" height="4.97" fill="#000000"/>
<circle cx="61.13" cy="825.90" r="2.70" fill="#ff0000"/>
<circle cx="93.64" cy="820.00" r="2.70" fill="#ff0000"/>
<circle cx="112.66" cy="815.60" r="2.70" fill="#ff0000"/>
<circle cx="117.60" cy="814.10" r="2.70" fill="#ff0000"/>
<circle cx="126.15" cy="813.00" r="2.70" fill="#ff0000"/>
<circle cx="150.11" cy="807.80" r="2.70" fill="#ff0000"/>
<circle cx="169.13" cy="803.80" r="2.70" fill="#ff0000"/>
<circle cx="182.62" cy="802.20" r="2.70" fill="#ff0000"/>
<circle cx="193.09" cy="798.80" r="2.70" fill="#ff0000"/>
<circle cx="201.64" cy="796.50" r="2.70" fill="#ff0000"/>
<circle cx="208.87" cy="796.00" r="2.70" fill="#ff0000"/>
<circle cx="215.13" cy="793.80" r="2.70" fill="#ff0000"/>
<circle cx="220.66" cy="792.60" r="2.70" fill="#ff0000"/>
<circle cx="225.60" cy="789.20" r="2.70" fill="#ff0000"/>
<circle cx="234.15" cy="786.40" r="2.70" fill="#ff0000"/>
<circle cx="241.38" cy="783.50" r="2.70" fill="#ff0000"/>
<circle cx="247.64" cy="782.40" r="2.70" fill="#ff0000"/>
<circle cx="253.17" cy="777.50" r="2.70" fill="#ff0000"/>
<circle cx="258.11" cy="775.40" r="2.70" fill="#ff0000"/>
<circle cx="268.58" cy="770.50" r="2.70" fill="#ff0000"/>
<circle cx="277.13" cy="763.10" r="2.70" fill="#ff0000"/>
<circle cx="284.36" cy="756.50" r="2.70" fill="#ff0000"/>
<circle cx="290.62" cy="752.80" r="2.70" fill="#ff0000"/>
<circle cx="296.15" cy="746.10" r="2.70" fill="#ff0000"/>
<circle cx="301.09" cy="741.70" r="2.70" fill="#ff0000"/>
<circle cx="305.56" cy="735.70" r="2.70" fill="#ff0000"/>
<circle cx="309.64" cy="729.80" r="2.70" fill="#ff0000"/>
<circle cx="313.39" cy="725.40" r="2.70" fill="#ff0000"/>
<circle cx="316.87" cy="721.70" r="2.70" fill="#ff0000"/>
<circle cx="320.11" cy="716.00" r="2.70" fill="#ff0000"/>
<circle cx="323.13" cy="710.50" r="2.70" fill="#ff0000"/>
<circle cx="325.98" cy="705.50" r="2.70" fill="#ff0000"/>
<circle cx="328.66" cy="701.00" r="2.70" fill="#ff0000"/>
<circle cx="331.19" cy="698.00" r="2.70" fill="#ff0000"/>
<circle cx="333.60" cy="695.50" r="2.70" fill="#ff0000"/>
<path d="M61.13 819.69L64.23 825.09H58.02Z" fill="#800000"/>
<path d="M93.64 811.50L96.75 816.89H90.54Z" fill="#800000"/>
<path d="M112.66 805.29L115.76 810.69H109.55Z" fill="#800000"/>
<path d="M117.60 804.50L120.70 809.89H114.49Z" fill="#800000"/>
<path d="M126.15 802.19L129.26 807.59H123.05Z" fill="#800000"/>
<path d="M150.11 795.39L153.22 800.79H147.01Z" fill="#800000"/>
<path d="M169.13 791.29L172.23 796.69H166.02Z" fill="#800000"/>
<path d="M182.62 787.60L185.73 793.00H179.52Z" fill="#800000"/>
<path d="M193.09 784.00L196.19 789.39H189.98Z" fill="#800000"/>
<path d="M201.64 783.00L204.75 788.39H198.54Z" fill="#800000"/>
<path d="M208.87 779.89L211.98 785.29H205.77Z" fill="#800000"/>
<path d="M215.13 778.60L218.24 784.00H212.03Z" fill="#800000"/>
<path d="M220.66 776.29L223.76 781.69H217.55Z" fill="#800000"/>
<path d="M225.60 775.50L228.70 780.89H222.50Z" fill="#800000"/>
<path d="M234.15 770.60L237.26 776.00H231.05Z" fill="#800000"/>
<path d="M241.38 766.10L244.49 771.50H238.28Z" fill="#800000"/>
<path d="M247.64 763.89L250.75 769.29H244.54Z" fill="#800000"/>
<path d="M253.17 757.39L256.27 762.79H250.06Z" fill="#800000"/>
<path d="M258.11 754.89L261.22 760.29H255.01Z" fill="#800000"/>
<path d="M268.58 751.89L271.68 757.29H265.47Z" fill="#800000"/>
<path d="M277.13 744.79L280.23 750.19H274.02Z" fill="#800000"/>
<path d="M284.36 738.29L287.46 743.69H281.25Z" fill="#800000"/>
<path d="M290.62 733.39L293.73 738.79H287.52Z" fill="#800000"/>
<path d="M296.15 726.00L299.25 731.39H293.04Z" fill="#800000"/>
<path d="M301.09 720.79L304.19 726.19H297.98Z" fill="#800000"/>
<path d="M305.56 717.39L308.66 722.79H302.45Z" fill="#800000"/>
<path d="M309.64 711.89L312.75 717.29H306.54Z" fill="#800000"/>
<path d="M313.39 705.89L316.50 711.29H310.29Z" fill="#800000"/>
<path d="M316.87 700.89L319.98 706.29H313.77Z" fill="#800000"/>
<path d="M320.11 697.89L323.21 703.29H317.00Z" fill="#800000"/>
<path d="M323.13 694.39L326.24 699.79H320.03Z" fill="#800000"/>
<path d="M325.98 690.89L329.08 696.29H322.87Z" fill="#800000"/>
<path d="M328.66 687.89L331.76 693.29H325.55Z" fill="#800000"/>
<path d="M331.19 684.89L334.30 690.29H328.09Z" fill="#800000"/>
<path d="M333.60 682.89L336.71 688.29H330.50Z" fill="#800000"/>
<path d="M61.13 816.11L64.23 810.71H58.02Z" fill="#0000ff"/>
<path d="M93.64 809.11L96.75 803.71H90.54Z" fill="#0000ff"/>
<path d="M112.66 803.71L115.76 798.31H109.55Z" fill="#0000ff"/>
<path d="M117.60 803.21L120.70 797.81H114.49Z" fill="#0000ff"/>
<path d="M126.15 800.11L129.26 794.71H123.05Z" fill="#0000ff"/>
<path d="M150.11 794.61L153.22 789.21H147.01Z" fill="#0000ff"/>
<path d="M169.13 791.00L172.23 785.61H166.02Z" fill="#0000ff"/>
<path d="M182.62 787.61L185.73 782.21H179.52Z" fill="#0000ff"/>
<path d="M193.09 784.50L196.19 779.11H189.98Z" fill="#0000ff"/>
<path d="M201.64 781.40L204.75 776.00H198.54Z" fill="#0000ff"/>
<path d="M208.87 780.50L211.98 775.11H205.77Z" fill="#0000ff"/>
<path d="M215.13 779.40L218.24 774.00H212.03Z" fill="#0000ff"/>
<path d="M220.66 777.11L223.76 771.71H217.55Z" fill="#0000ff"/>
<path d="M225.60 774.00L228.70 768.61H222.50Z" fill="#0000ff"/>
<path d="M234.15 770.90L237.26 765.50H231.05Z" fill="#0000ff"/>
<path d="M241.38 767.71L244.49 762.31H238.28Z" fill="#0000ff"/>
<path d="M247.64 763.11L250.75 757.71H244.54Z" fill="#0000ff"/>
<path d="M253.17 759.61L256.27 754.21H250.06Z" fill="#0000ff"/>
<path d="M258.11 757.11L261.22 751.71H255.01Z" fill="#0000ff"/>
<path d="M268.58 752.90L271.68 747.50H265.47Z" fill="#0000ff"/>
<path d="M277.13 745.50L280.23 740.11H274.02Z" fill="#0000ff"/>
<path d="M284.36 740.31L287.46 734.91H281.25Z" fill="#0000ff"/>
<path d="M290.62 735.11L293.73 729.71H287.52Z" fill="#0000ff"/>
<path d="M296.15 730.71L299.25 725.31H293.04Z" fill="#0000ff"/>
<path d="M301.09 721.11L304.19 715.71H297.98Z" fill="#0000ff"/>
<path d="M305.56 715.11L308.66 709.71H302.45Z" fill="#0000ff"/>
<path d="M309.64 708.11L312.75 702.71H306.54Z" fill="#0000ff"/>
<path d="M313.39 703.11L316.50 697.71H310.29Z" fill="#0000ff"/>
<path d="M316.87 696.11L319.98 690.71H313.77Z" fill="#0000ff"/>
<path d="M320.11 689.61L323.21 684.21H317.00Z" fill="#0000ff"/>
<path d="M323.13 684.11L326.24 678.71H320.03Z" fill="#0000ff"/>
<path d="M325.98 679.11L329.08 673.71H322.87Z" fill="#0000ff"/>
<path d="M328.66 674.11L331.76 668.71H325.55Z" fill="#0000ff"/>
<path d="M331.19 670.11L334.30 664.71H328.09Z" fill="#0000ff"/>
<path d="M333.60 664.11L336.71 658.71H330.50Z" fill="#0000ff"/>
<path d="M61.13 803.56L64.37 806.80L61.13 810.04L57.89 806.80Z" fill="#008000"/>
<path d="M93.64 798.86L96.88 802.10L93.64 805.34L90.40 802.10Z" fill="#008000"/>
<path d="M112.66 791.96L115.90 795.20L112.66 798.44L109.42 795.20Z" fill="#008000"/>
<path d="M117.60 791.16L120.84 794.40L117.60 797.64L114.36 794.40Z" fill="#008000"/>
<path d="M126.15 789.56L129.39 792.80L126.15 796.04L122.91 792.80Z" fill="#008000"/>
<path d="M150.11 783.66L153.35 786.90L150.11 790.14L146.87 786.90Z" fill="#008000"/>
<path d="M169.13 776.96L172.37 780.20L169.13 783.44L165.89 780.20Z" fill="#008000"/>
<path d="M182.62 774.56L185.86 777.80L182.62 781.04L179.38 777.80Z" fill="#008000"/>
<path d="M193.09 770.76L196.33 774.00L193.09 777.24L189.85 774.00Z" fill="#008000"/>
<path d="M201.64 769.96L204.88 773.20L201.64 776.44L198.40 773.20Z" fill="#008000"/>
<path d="M208.87 766.86L212.11 770.10L208.87 773.34L205.63 770.10Z" fill="#008000"/>
<path d="M215.13 766.06L218.37 769.30L215.13 772.54L211.89 769.30Z" fill="#008000"/>
<path d="M220.66 762.96L223.90 766.20L220.66 769.44L217.42 766.20Z" fill="#008000"/>
<path d="M225.60 761.76L228.84 765.00L225.60 768.24L222.36 765.00Z" fill="#008000"/>
<path d="M234.15 757.56L237.39 760.80L234.15 764.04L230.91 760.80Z" fill="#008000"/>
<path d="M241.38 753.96L244.62 757.20L241.38 760.44L238.14 757.20Z" fill="#008000"/>
<path d="M247.64 750.26L250.88 753.50L247.64 756.74L244.40 753.50Z" fill="#008000"/>
<path d="M253.17 748.76L256.41 752.00L253.17 755.24L249.93 752.00Z" fill="#008000"/>
<path d="M258.11 743.56L261.35 746.80L258.11 750.04L254.87 746.80Z" fill="#008000"/>
<path d="M268.58 738.46L271.82 741.70L268.58 744.94L265.34 741.70Z" fill="#008000"/>
<path d="M277.13 733.96L280.37 737.20L277.13 740.44L273.89 737.20Z" fill="#008000"/>
<path d="M284.36 729.56L287.60 732.80L284.36 736.04L281.12 732.80Z" fill="#008000"/>
<path d="M290.62 722.16L293.86 725.40L290.62 728.64L287.38 725.40Z" fill="#008000"/>
<path d="M296.15 719.16L299.39 722.40L296.15 725.64L292.91 722.40Z" fill="#008000"/>
<path d="M301.09 712.26L304.33 715.50L301.09 718.74L297.85 715.50Z" fill="#008000"/>
<path d="M305.56 705.76L308.80 709.00L305.56 712.24L302.32 709.00Z" fill="#008000"/>
<path d="M309.64 697.76L312.88 701.00L309.64 704.24L306.40 701.00Z" fill="#008000"/>
<path d="M313.39 689.76L316.63 693.00L313.39 696.24L310.15 693.00Z" fill="#008000"/>
<path d="M316.87 682.76L320.11 686.00L316.87 689.24L313.63 686.00Z" fill="#008000"/>
<path d="M320.11 677.76L323.35 681.00L320.11 684.24L316.87 681.00Z" fill="#008000"/>
<path d="M323.13 672.76L326.37 676.00L323.13 679.24L319.89 676.00Z" fill="#008000"/>
<path d="M325.98 665.76L329.22 669.00L325.98 672.24L322.74 669.00Z" fill="#008000"/>
<path d="M328.66 658.76L331.90 662.00L328.66 665.24L325.42 662.00Z" fill="#008000"/>
<path d="M331.19 652.76L334.43 656.00L331.19 659.24L327.95 656.00Z" fill="#008000"/>
<path d="M333.60 648.76L336.84 652.00L333.60 655.24L330.36 652.00Z" fill="#008000"/>
<path d="M58.02 806.00L63.42 802.89V809.11Z" fill="#ff00ff"/>
<path d="M90.54 798.30L95.94 795.19V801.40Z" fill="#ff00ff"/>
<path d="M109.55 792.10L114.95 789.00V795.21Z" fill="#ff00ff"/>
<path d="M114.49 791.30L119.89 788.19V794.40Z" fill="#ff00ff"/>
<path d="M123.05 788.60L128.45 785.50V791.71Z" fill="#ff00ff"/>
<path d="M147.01 783.40L152.41 780.29V786.50Z" fill="#ff00ff"/>
<path d="M166.02 776.80L171.42 773.69V779.90Z" fill="#ff00ff"/>
<path d="M179.52 774.70L184.92 771.60V777.81Z" fill="#ff00ff"/>
<path d="M189.98 771.60L195.38 768.50V774.71Z" fill="#ff00ff"/>
<path d="M198.54 769.00L203.94 765.89V772.11Z" fill="#ff00ff"/>
<path d="M205.77 764.70L211.17 761.60V767.81Z" fill="#ff00ff"/>
<path d="M212.03 761.50L217.43 758.39V764.61Z" fill="#ff00ff"/>
<path d="M217.55 760.00L222.95 756.89V763.11Z" fill="#ff00ff"/>
<path d="M222.50 756.10L227.89 753.00V759.21Z" fill="#ff00ff"/>
<path d="M231.05 749.90L236.45 746.79V753.00Z" fill="#ff00ff"/>
<path d="M238.28 744.70L243.68 741.60V747.81Z" fill="#ff00ff"/>
<path d="M244.54 739.60L249.94 736.50V742.71Z" fill="#ff00ff"/>
<path d="M250.06 733.40L255.46 730.29V736.50Z" fill="#ff00ff"/>
<path d="M255.01 728.30L260.41 725.19V731.40Z" fill="#ff00ff"/>
<path d="M265.47 718.00L270.87 714.89V721.11Z" fill="#ff00ff"/>
<path d="M274.02 705.00L279.42 701.89V708.11Z" fill="#ff00ff"/>
<path d="M281.25 696.50L286.65 693.39V699.61Z" fill="#ff00ff"/>
<path d="M287.52 687.50L292.92 684.39V690.61Z" fill="#ff00ff"/>
<path d="M293.04 679.00L298.44 675.89V682.11Z" fill="#ff00ff"/>
<path d="M297.98 673.50L303.38 670.39V676.61Z" fill="#ff00ff"/>
<path d="M302.45 669.00L307.85 665.89V672.11Z" fill="#ff00ff"/>
<path d="M306.54 664.00L311.94 660.89V667.11Z" fill="#ff00ff"/>
<path d="M310.29 659.85L315.69 656.74V662.95Z" fill="#ff00ff"/>
<path d="M313.77 656.00L319.17 652.89V659.11Z" fill="#ff00ff"/>
<path d="M317.00 650.83L322.40 647.73V653.94Z" fill="#ff00ff"/>
<path d="M320.03 646.00L325.43 642.89V649.11Z" fill="#ff00ff"/>
<path d="M322.87 640.34L328.27 637.23V643.44Z" fill="#ff00ff"/>
<path d="M325.55 635.00L330.95 631.89V638.11Z" fill="#ff00ff"/>
<path d="M328.09 631.41L333.49 628.30V634.51Z" fill="#ff00ff"/>
<path d="M330.50 628.00L335.90 624.89V631.11Z" fill="#ff00ff"/>
<path d="M64.23 802.10L58.83 799.00V805.21Z" fill="#000080"/>
<path d="M96.75 793.30L91.35 790.19V796.40Z" fill="#000080"/>
<path d="M115.76 788.20L110.36 785.10V791.31Z" fill="#000080"/>
<path d="M120.70 785.90L115.30 782.79V789.00Z" fill="#000080"/>
<path d="M129.26 784.30L123.86 781.19V787.40Z" fill="#000080"/>
<path d="M153.22 777.20L147.82 774.10V780.31Z" fill="#000080"/>
<path d="M172.23 772.10L166.83 769.00V775.21Z" fill="#000080"/>
<path d="M185.73 767.80L180.33 764.69V770.90Z" fill="#000080"/>
<path d="M196.19 765.00L190.79 761.89V768.11Z" fill="#000080"/>
<path d="M204.75 762.30L199.35 759.19V765.40Z" fill="#000080"/>
<path d="M211.98 760.80L206.58 757.69V763.90Z" fill="#000080"/>
<path d="M218.24 756.60L212.84 753.50V759.71Z" fill="#000080"/>
<path d="M223.76 752.20L218.36 749.10V755.31Z" fill="#000080"/>
<path d="M228.70 749.90L223.31 746.79V753.00Z" fill="#000080"/>
<path d="M237.26 742.90L231.86 739.79V746.00Z" fill="#000080"/>
<path d="M244.49 737.30L239.09 734.19V740.40Z" fill="#000080"/>
<path d="M250.75 731.30L245.35 728.19V734.40Z" fill="#000080"/>
<path d="M256.27 726.40L250.87 723.29V729.50Z" fill="#000080"/>
<path d="M261.22 721.50L255.82 718.39V724.61Z" fill="#000080"/>
<path d="M271.68 711.00L266.28 707.89V714.11Z" fill="#000080"/>
<path d="M280.23 699.20L274.83 696.10V702.31Z" fill="#000080"/>
<path d="M287.46 691.80L282.06 688.69V694.90Z" fill="#000080"/>
<path d="M293.73 682.90L288.33 679.79V686.00Z" fill="#000080"/>
<path d="M299.25 677.00L293.85 673.89V680.11Z" fill="#000080"/>
<path d="M304.19 670.30L298.79 667.19V673.40Z" fill="#000080"/>
<path d="M308.66 665.10L303.26 662.00V668.21Z" fill="#000080"/>
<path d="M312.75 659.90L307.35 656.79V663.00Z" fill="#000080"/>
<path d="M316.50 655.50L311.10 652.39V658.61Z" fill="#000080"/>
<path d="M319.98 649.60L314.58 646.50V652.71Z" fill="#000080"/>
<path d="M323.21 645.16L317.81 642.05V648.26Z" fill="#000080"/>
<path d="M326.24 641.00L320.84 637.89V644.11Z" fill="#000080"/>
<path d="M329.08 635.34L323.68 632.23V638.44Z" fill="#000080"/>
<path d="M331.76 630.00L326.36 626.89V633.11Z" fill="#000080"/>
<path d="M334.30 623.69L328.90 620.58V626.79Z" fill="#000080"/>
<path d="M336.71 617.70L331.31 614.60V620.81Z" fill="#000080"/>
<circle cx="61.13" cy="797.50" r="2.70" fill="#808000"/>
<circle cx="93.64" cy="784.00" r="2.70" fill="#808000"/>
<circle cx="112.66" cy="774.20" r="2.70" fill="#808000"/>
<circle cx="117.60" cy="771.60" r="2.70" fill="#808000"/>
<circle cx="126.15" cy="768.80" r="2.70" fill="#808000"/>
<circle cx="150.11" cy="758.40" r="2.70" fill="#808000"/>
<circle cx="169.13" cy="750.70" r="2.70" fill="#808000"/>
<circle cx="182.62" cy="742.60" r="2.70" fill="#808000"/>
<circle cx="193.09" cy="738.30" r="2.70" fill="#808000"/>
<circle cx="201.64" cy="732.80" r="2.70" fill="#808000"/>
<circle cx="208.87" cy="729.00" r="2.70" fill="#808000"/>
<circle cx="215.13" cy="726.60" r="2.70" fill="#808000"/>
<circle cx="220.66" cy="721.20" r="2.70" fill="#808000"/>
<circle cx="225.60" cy="720.40" r="2.70" fill="#808000"/>
<circle cx="234.15" cy="715.80" r="2.70" fill="#808000"/>
<circle cx="241.38" cy="711.00" r="2.70" fill="#808000"/>
<circle cx="247.64" cy="704.40" r="2.70" fill="#808000"/>
<circle cx="253.17" cy="699.20" r="2.70" fill="#808000"/>
<circle cx="258.11" cy="698.50" r="2.70" fill="#808000"/>
<circle cx="268.58" cy="686.60" r="2.70" fill="#808000"/>
<circle cx="277.13" cy="683.60" r="2.70" fill="#808000"/>
<circle cx="284.36" cy="676.20" r="2.70" fill="#808000"/>
<circle cx="290.62" cy="671.10" r="2.70" fill="#808000"/>
<circle cx="296.15" cy="666.60" r="2.70" fill="#808000"/>
<circle cx="301.09" cy="660.70" r="2.70" fill="#808000"/>
<circle cx="305.56" cy="656.20" r="2.70" fill="#808000"/>
<circle cx="309.64" cy="651.10" r="2.70" fill="#808000"/>
<circle cx="313.39" cy="648.10" r="2.70" fill="#808000"/>
<circle cx="316.87" cy="640.00" r="2.70" fill="#808000"/>
<circle cx="320.11" cy="637.70" r="2.70" fill="#808000"/>
<circle cx="323.13" cy="631.80" r="2.70" fill="#808000"/>
<circle cx="325.98" cy="625.90" r="2.70" fill="#808000"/>
<circle cx="328.66" cy="620.70" r="2.70" fill="#808000"/>
<circle cx="331.19" cy="616.30" r="2.70" fill="#808000"/>
<circle cx="333.60" cy="612.60" r="2.70" fill="#808000"/>
<line x1="61.1" y1="798.3" x2="246.8" y2="711" stroke="#ff3030" stroke-width="0.8"/>
<line x1="61.1" y1="804.5" x2="246" y2="752" stroke="#ff3030" stroke-width="0.8"/>
<line x1="61.1" y1="806" x2="246" y2="760" stroke="#ff3030" stroke-width="0.8"/>
<line x1="61.1" y1="807" x2="246" y2="766" stroke="#ff3030" stroke-width="0.8"/>
<line x1="61.1" y1="812.5" x2="246" y2="772" stroke="#ff3030" stroke-width="0.8"/>
<line x1="61.1" y1="822" x2="246" y2="777" stroke="#ff3030" stroke-width="0.8"/>
<line x1="61.1" y1="825.5" x2="246" y2="787" stroke="#ff3030" stroke-width="0.8"/>
<line x1="61.1" y1="831.5" x2="246" y2="793" stroke="#ff3030" stroke-width="0.8"/>
<line x1="220.3" y1="735.2" x2="332" y2="623.7" stroke="#ff3030" stroke-width="0.8"/>
<line x1="226" y1="765" x2="332.7" y2="625.9" stroke="#ff3030" stroke-width="0.8"/>
<line x1="228" y1="772" x2="332.7" y2="632.5" stroke="#ff3030" stroke-width="0.8"/>
<line x1="214.1" y1="814.8" x2="332.7" y2="662" stroke="#ff3030" stroke-width="0.8"/>
<line x1="222" y1="800" x2="332.7" y2="680" stroke="#ff3030" stroke-width="0.8"/>
<line x1="220" y1="805" x2="332.7" y2="693.3" stroke="#ff3030" stroke-width="0.8"/>
<line x1="216" y1="818" x2="332.7" y2="702" stroke="#ff3030" stroke-width="0.8"/>
<line x1="233.3" y1="805.8" x2="332.7" y2="722" stroke="#ff3030" stroke-width="0.8"/>
<rect x="53.30" y="597.30" width="283.80" height="243.50" fill="none" stroke="#000" stroke-width="1.5"/>
<path d="M61.13 840.80v-2.20M74.62 840.80v-2.20M85.09 840.80v-2.20M93.64 840.80v-2.20M100.87 840.80v-2.20M107.13 840.80v-2.20M112.66 840.80v-2.20M117.60 840.80v-3.80M150.11 840.80v-2.20M169.13 840.80v-2.20M182.62 840.80v-2.20M193.09 840.80v-2.20M201.64 840.80v-2.20M208.87 840.80v-2.20M215.13 840.80v-2.20M220.66 840.80v-2.20M225.60 840.80v-3.80M258.11 840.80v-2.20M277.13 840.80v-2.20M290.62 840.80v-2.20M301.09 840.80v-2.20M309.64 840.80v-2.20M316.87 840.80v-2.20M323.13 840.80v-2.20M328.66 840.80v-2.20M333.60 840.80v-3.80M53.30 834.18h2.20M53.30 829.29h2.20M53.30 825.29h2.20M53.30 821.91h2.20M53.30 818.99h2.20M53.30 816.41h2.20M53.30 814.10h3.80M53.30 798.91h2.20M53.30 790.03h2.20M53.30 783.73h2.20M53.30 778.84h2.20M53.30 774.84h2.20M53.30 771.46h2.20M53.30 768.54h2.20M53.30 765.96h2.20M53.30 763.65h3.80M53.30 748.46h2.20M53.30 739.58h2.20M53.30 733.28h2.20M53.30 728.39h2.20M53.30 724.39h2.20M53.30 721.01h2.20M53.30 718.09h2.20M53.30 715.51h2.20M53.30 713.20h3.80M53.30 698.01h2.20M53.30 689.13h2.20M53.30 682.83h2.20M53.30 677.94h2.20M53.30 673.94h2.20M53.30 670.56h2.20M53.30 667.64h2.20M53.30 665.06h2.20M53.30 662.75h3.80M53.30 647.56h2.20M53.30 638.68h2.20M53.30 632.38h2.20M53.30 627.49h2.20M53.30 623.49h2.20M53.30 620.11h2.20M53.30 617.19h2.20M53.30 614.61h2.20M53.30 612.30h3.80" stroke="#000" stroke-width="1.2" fill="none"/>
<text x="117.90" y="855.90" font-size="13.8" text-anchor="middle">1</text>
<text x="225.90" y="855.90" font-size="13.8" text-anchor="middle">10</text>
<text x="333.90" y="855.90" font-size="13.8" text-anchor="middle">100</text>
<text x="40.70" y="617.10" font-size="13.8" text-anchor="end">10</text>
<text x="40.70" y="611.00" font-size="9.7">-2</text>
<text x="40.70" y="667.55" font-size="13.8" text-anchor="end">10</text>
<text x="40.70" y="661.45" font-size="9.7">-3</text>
<text x="40.70" y="718.00" font-size="13.8" text-anchor="end">10</text>
<text x="40.70" y="711.90" font-size="9.7">-4</text>
<text x="40.70" y="768.45" font-size="13.8" text-anchor="end">10</text>
<text x="40.70" y="762.35" font-size="9.7">-5</text>
<text x="40.70" y="818.90" font-size="13.8" text-anchor="end">10</text>
<text x="40.70" y="812.80" font-size="9.7">-6</text>
<text x="139.70" y="872.4" font-size="18.5" textLength="109.80" lengthAdjust="spacingAndGlyphs">Voltage, <tspan font-style="italic">V</tspan> (V)</text>
<text transform="translate(17.3,802.40) rotate(-90)" font-size="17.95" textLength="185.70" lengthAdjust="spacingAndGlyphs">Current density, <tspan font-style="italic">J</tspan>(Am<tspan font-size="11.8" dy="-6.82">-2</tspan><tspan dy="6.82">)</tspan></text>
<text x="207.1" y="619.0" font-size="20" text-anchor="middle">(e)</text>
<rect x="71.82" y="606.42" width="5.15" height="5.15" fill="#000000"/>
<text x="93.90" y="613.50" font-size="13.8">298 K</text>
<circle cx="74.40" cy="626.00" r="2.80" fill="#ff0000"/>
<text x="93.90" y="630.50" font-size="13.8">308 K</text>
<path d="M74.40 639.58L77.62 645.18H71.18Z" fill="#800000"/>
<text x="93.90" y="647.30" font-size="13.8">318 K</text>
<path d="M74.40 662.42L77.62 656.82H71.18Z" fill="#0000ff"/>
<text x="93.90" y="663.70" font-size="13.8">328 K</text>
<path d="M74.40 672.54L77.76 675.90L74.40 679.26L71.04 675.90Z" fill="#008000"/>
<text x="93.90" y="680.40" font-size="13.8">338 K</text>
<path d="M71.18 692.50L76.78 689.28V695.72Z" fill="#ff00ff"/>
<text x="93.90" y="697.00" font-size="13.8">348 K</text>
<path d="M77.62 709.30L72.02 706.08V712.52Z" fill="#000080"/>
<text x="93.90" y="713.80" font-size="13.8">358 K</text>
<circle cx="74.40" cy="726.30" r="2.80" fill="#808000"/>
<text x="93.90" y="730.80" font-size="13.8">373 K</text>
<rect x="430.98" y="834.18" width="5.24" height="5.24" fill="#4a4a4a"/>
<rect x="459.88" y="830.28" width="5.24" height="5.24" fill="#4a4a4a"/>
<rect x="476.79" y="826.38" width="5.24" height="5.24" fill="#4a4a4a"/>
<rect x="488.78" y="823.48" width="5.24" height="5.24" fill="#4a4a4a"/>
<rect x="510.08" y="819.58" width="5.24" height="5.24" fill="#4a4a4a"/>
<rect x="526.98" y="813.38" width="5.24" height="5.24" fill="#4a4a4a"/>
<rect x="538.98" y="809.48" width="5.24" height="5.24" fill="#4a4a4a"/>
<rect x="548.28" y="805.68" width="5.24" height="5.24" fill="#4a4a4a"/>
<rect x="555.88" y="802.28" width="5.24" height="5.24" fill="#4a4a4a"/>
<rect x="562.31" y="798.98" width="5.24" height="5.24" fill="#4a4a4a"/>
<rect x="567.87" y="796.38" width="5.24" height="5.24" fill="#4a4a4a"/>
<rect x="572.79" y="793.48" width="5.24" height="5.24" fill="#4a4a4a"/>
<rect x="577.18" y="791.28" width="5.24" height="5.24" fill="#4a4a4a"/>
<rect x="584.78" y="787.38" width="5.24" height="5.24" fill="#4a4a4a"/>
<rect x="591.21" y="783.68" width="5.24" height="5.24" fill="#4a4a4a"/>
<rect x="596.77" y="780.28" width="5.24" height="5.24" fill="#4a4a4a"/>
<rect x="601.68" y="777.78" width="5.24" height="5.24" fill="#4a4a4a"/>
<rect x="606.08" y="775.58" width="5.24" height="5.24" fill="#4a4a4a"/>
<rect x="615.38" y="773.58" width="5.24" height="5.24" fill="#4a4a4a"/>
<rect x="622.98" y="770.38" width="5.24" height="5.24" fill="#4a4a4a"/>
<rect x="629.41" y="766.38" width="5.24" height="5.24" fill="#4a4a4a"/>
<rect x="634.98" y="763.38" width="5.24" height="5.24" fill="#4a4a4a"/>
<rect x="639.89" y="762.18" width="5.24" height="5.24" fill="#4a4a4a"/>
<rect x="644.28" y="758.88" width="5.24" height="5.24" fill="#4a4a4a"/>
<rect x="648.25" y="755.48" width="5.24" height="5.24" fill="#4a4a4a"/>
<rect x="651.88" y="753.28" width="5.24" height="5.24" fill="#4a4a4a"/>
<rect x="655.22" y="748.78" width="5.24" height="5.24" fill="#4a4a4a"/>
<rect x="658.31" y="745.48" width="5.24" height="5.24" fill="#4a4a4a"/>
<rect x="661.18" y="741.08" width="5.24" height="5.24" fill="#4a4a4a"/>
<rect x="663.87" y="736.58" width="5.24" height="5.24" fill="#4a4a4a"/>
<rect x="666.40" y="733.28" width="5.24" height="5.24" fill="#4a4a4a"/>
<rect x="668.79" y="729.88" width="5.24" height="5.24" fill="#4a4a4a"/>
<rect x="671.04" y="725.48" width="5.24" height="5.24" fill="#4a4a4a"/>
<rect x="673.18" y="722.08" width="5.24" height="5.24" fill="#4a4a4a"/>
<circle cx="433.60" cy="824.90" r="2.85" fill="#ee3333"/>
<circle cx="462.50" cy="820.50" r="2.85" fill="#ee3333"/>
<circle cx="479.41" cy="816.80" r="2.85" fill="#ee3333"/>
<circle cx="491.40" cy="816.50" r="2.85" fill="#ee3333"/>
<circle cx="512.70" cy="813.70" r="2.85" fill="#ee3333"/>
<circle cx="529.60" cy="810.00" r="2.85" fill="#ee3333"/>
<circle cx="541.60" cy="804.10" r="2.85" fill="#ee3333"/>
<circle cx="550.90" cy="800.20" r="2.85" fill="#ee3333"/>
<circle cx="558.50" cy="796.50" r="2.85" fill="#ee3333"/>
<circle cx="564.93" cy="792.80" r="2.85" fill="#ee3333"/>
<circle cx="570.50" cy="789.40" r="2.85" fill="#ee3333"/>
<circle cx="575.41" cy="787.20" r="2.85" fill="#ee3333"/>
<circle cx="579.80" cy="784.60" r="2.85" fill="#ee3333"/>
<circle cx="587.40" cy="782.10" r="2.85" fill="#ee3333"/>
<circle cx="593.83" cy="778.20" r="2.85" fill="#ee3333"/>
<circle cx="599.40" cy="774.10" r="2.85" fill="#ee3333"/>
<circle cx="604.31" cy="769.70" r="2.85" fill="#ee3333"/>
<circle cx="608.70" cy="767.70" r="2.85" fill="#ee3333"/>
<circle cx="618.00" cy="765.00" r="2.85" fill="#ee3333"/>
<circle cx="625.60" cy="763.30" r="2.85" fill="#ee3333"/>
<circle cx="632.03" cy="760.00" r="2.85" fill="#ee3333"/>
<circle cx="637.60" cy="757.00" r="2.85" fill="#ee3333"/>
<circle cx="642.51" cy="754.80" r="2.85" fill="#ee3333"/>
<circle cx="646.90" cy="752.60" r="2.85" fill="#ee3333"/>
<circle cx="650.87" cy="749.20" r="2.85" fill="#ee3333"/>
<circle cx="654.50" cy="747.00" r="2.85" fill="#ee3333"/>
<circle cx="657.84" cy="743.70" r="2.85" fill="#ee3333"/>
<circle cx="660.93" cy="740.30" r="2.85" fill="#ee3333"/>
<circle cx="663.81" cy="737.00" r="2.85" fill="#ee3333"/>
<circle cx="666.50" cy="733.60" r="2.85" fill="#ee3333"/>
<circle cx="669.02" cy="730.30" r="2.85" fill="#ee3333"/>
<circle cx="671.41" cy="725.80" r="2.85" fill="#ee3333"/>
<circle cx="673.66" cy="721.40" r="2.85" fill="#ee3333"/>
<circle cx="675.80" cy="716.90" r="2.85" fill="#ee3333"/>
<path d="M433.60 809.82L436.88 815.52H430.33Z" fill="#1a66dd"/>
<path d="M462.50 805.02L465.78 810.72H459.23Z" fill="#1a66dd"/>
<path d="M479.41 799.92L482.68 805.62H476.13Z" fill="#1a66dd"/>
<path d="M491.40 794.92L494.68 800.62H488.12Z" fill="#1a66dd"/>
<path d="M512.70 789.52L515.98 795.22H509.42Z" fill="#1a66dd"/>
<path d="M529.60 783.02L532.88 788.72H526.33Z" fill="#1a66dd"/>
<path d="M541.60 776.32L544.88 782.02H538.32Z" fill="#1a66dd"/>
<path d="M550.90 772.02L554.18 777.72H547.62Z" fill="#1a66dd"/>
<path d="M558.50 767.82L561.78 773.52H555.23Z" fill="#1a66dd"/>
<path d="M564.93 763.62L568.21 769.32H561.65Z" fill="#1a66dd"/>
<path d="M570.50 759.32L573.77 765.02H567.22Z" fill="#1a66dd"/>
<path d="M575.41 757.62L578.68 763.32H572.13Z" fill="#1a66dd"/>
<path d="M579.80 754.22L583.08 759.92H576.52Z" fill="#1a66dd"/>
<path d="M587.40 750.92L590.68 756.62H584.12Z" fill="#1a66dd"/>
<path d="M593.83 747.52L597.11 753.22H590.55Z" fill="#1a66dd"/>
<path d="M599.40 743.22L602.67 748.92H596.12Z" fill="#1a66dd"/>
<path d="M604.31 740.72L607.58 746.42H601.03Z" fill="#1a66dd"/>
<path d="M608.70 738.22L611.98 743.92H605.42Z" fill="#1a66dd"/>
<path d="M618.00 732.22L621.28 737.92H614.72Z" fill="#1a66dd"/>
<path d="M625.60 728.72L628.88 734.42H622.33Z" fill="#1a66dd"/>
<path d="M632.03 724.22L635.31 729.92H628.75Z" fill="#1a66dd"/>
<path d="M637.60 721.72L640.88 727.42H634.32Z" fill="#1a66dd"/>
<path d="M642.51 718.12L645.79 723.82H639.23Z" fill="#1a66dd"/>
<path d="M646.90 715.92L650.18 721.62H643.62Z" fill="#1a66dd"/>
<path d="M650.87 712.52L654.15 718.22H647.60Z" fill="#1a66dd"/>
<path d="M654.50 709.22L657.78 714.92H651.23Z" fill="#1a66dd"/>
<path d="M657.84 705.82L661.12 711.52H654.56Z" fill="#1a66dd"/>
<path d="M660.93 702.52L664.21 708.22H657.65Z" fill="#1a66dd"/>
<path d="M663.81 699.12L667.08 704.82H660.53Z" fill="#1a66dd"/>
<path d="M666.50 696.92L669.77 702.62H663.22Z" fill="#1a66dd"/>
<path d="M669.02 693.62L672.30 699.32H665.75Z" fill="#1a66dd"/>
<path d="M671.41 691.42L674.68 697.12H668.13Z" fill="#1a66dd"/>
<path d="M673.66 689.12L676.94 694.82H670.38Z" fill="#1a66dd"/>
<path d="M675.80 685.82L679.08 691.52H672.52Z" fill="#1a66dd"/>
<path d="M433.60 820.88L436.88 815.18H430.33Z" fill="#33a35a"/>
<path d="M462.50 814.98L465.78 809.28H459.23Z" fill="#33a35a"/>
<path d="M479.41 809.08L482.68 803.38H476.13Z" fill="#33a35a"/>
<path d="M491.40 803.18L494.68 797.48H488.12Z" fill="#33a35a"/>
<path d="M512.70 797.18L515.98 791.48H509.42Z" fill="#33a35a"/>
<path d="M529.60 792.18L532.88 786.48H526.33Z" fill="#33a35a"/>
<path d="M541.60 787.08L544.88 781.38H538.32Z" fill="#33a35a"/>
<path d="M550.90 782.88L554.18 777.18H547.62Z" fill="#33a35a"/>
<path d="M558.50 778.58L561.78 772.88H555.23Z" fill="#33a35a"/>
<path d="M564.93 774.68L568.21 768.98H561.65Z" fill="#33a35a"/>
<path d="M570.50 770.98L573.77 765.28H567.22Z" fill="#33a35a"/>
<path d="M575.41 768.48L578.68 762.78H572.13Z" fill="#33a35a"/>
<path d="M579.80 764.18L583.08 758.48H576.52Z" fill="#33a35a"/>
<path d="M587.40 759.18L590.68 753.48H584.12Z" fill="#33a35a"/>
<path d="M593.83 757.48L597.11 751.78H590.55Z" fill="#33a35a"/>
<path d="M599.40 755.78L602.67 750.08H596.12Z" fill="#33a35a"/>
<path d="M604.31 751.48L607.58 745.78H601.03Z" fill="#33a35a"/>
<path d="M608.70 748.98L611.98 743.28H605.42Z" fill="#33a35a"/>
<path d="M618.00 744.78L621.28 739.08H614.72Z" fill="#33a35a"/>
<path d="M625.60 741.78L628.88 736.08H622.33Z" fill="#33a35a"/>
<path d="M632.03 737.78L635.31 732.08H628.75Z" fill="#33a35a"/>
<path d="M637.60 733.28L640.88 727.58H634.32Z" fill="#33a35a"/>
<path d="M642.51 727.28L645.79 721.58H639.23Z" fill="#33a35a"/>
<path d="M646.90 724.28L650.18 718.58H643.62Z" fill="#33a35a"/>
<path d="M650.87 721.28L654.15 715.58H647.60Z" fill="#33a35a"/>
<path d="M654.50 717.28L657.78 711.58H651.23Z" fill="#33a35a"/>
<path d="M657.84 714.28L661.12 708.58H654.56Z" fill="#33a35a"/>
<path d="M660.93 711.28L664.21 705.58H657.65Z" fill="#33a35a"/>
<path d="M663.81 708.28L667.08 702.58H660.53Z" fill="#33a35a"/>
<path d="M666.50 705.28L669.77 699.58H663.22Z" fill="#33a35a"/>
<path d="M669.02 702.28L672.30 696.58H665.75Z" fill="#33a35a"/>
<path d="M671.41 700.28L674.68 694.58H668.13Z" fill="#33a35a"/>
<path d="M673.66 697.28L676.94 691.58H670.38Z" fill="#33a35a"/>
<path d="M675.80 695.28L679.08 689.58H672.52Z" fill="#33a35a"/>
<path d="M433.60 818.08L437.02 821.50L433.60 824.92L430.18 821.50Z" fill="#a370e0"/>
<path d="M462.50 806.28L465.92 809.70L462.50 813.12L459.08 809.70Z" fill="#a370e0"/>
<path d="M479.41 798.98L482.83 802.40L479.41 805.82L475.99 802.40Z" fill="#a370e0"/>
<path d="M491.40 795.58L494.82 799.00L491.40 802.42L487.98 799.00Z" fill="#a370e0"/>
<path d="M512.70 793.38L516.12 796.80L512.70 800.22L509.28 796.80Z" fill="#a370e0"/>
<path d="M529.60 782.88L533.02 786.30L529.60 789.72L526.18 786.30Z" fill="#a370e0"/>
<path d="M541.60 775.78L545.02 779.20L541.60 782.62L538.18 779.20Z" fill="#a370e0"/>
<path d="M550.90 771.08L554.32 774.50L550.90 777.92L547.48 774.50Z" fill="#a370e0"/>
<path d="M558.50 766.78L561.92 770.20L558.50 773.62L555.08 770.20Z" fill="#a370e0"/>
<path d="M564.93 762.58L568.35 766.00L564.93 769.42L561.51 766.00Z" fill="#a370e0"/>
<path d="M570.50 759.18L573.92 762.60L570.50 766.02L567.08 762.60Z" fill="#a370e0"/>
<path d="M575.41 756.68L578.83 760.10L575.41 763.52L571.99 760.10Z" fill="#a370e0"/>
<path d="M579.80 754.98L583.22 758.40L579.80 761.82L576.38 758.40Z" fill="#a370e0"/>
<path d="M587.40 752.48L590.82 755.90L587.40 759.32L583.98 755.90Z" fill="#a370e0"/>
<path d="M593.83 750.78L597.25 754.20L593.83 757.62L590.41 754.20Z" fill="#a370e0"/>
<path d="M599.40 744.78L602.82 748.20L599.40 751.62L595.98 748.20Z" fill="#a370e0"/>
<path d="M604.31 740.58L607.73 744.00L604.31 747.42L600.89 744.00Z" fill="#a370e0"/>
<path d="M608.70 735.18L612.12 738.60L608.70 742.02L605.28 738.60Z" fill="#a370e0"/>
<path d="M618.00 731.28L621.42 734.70L618.00 738.12L614.58 734.70Z" fill="#a370e0"/>
<path d="M625.60 720.78L629.02 724.20L625.60 727.62L622.18 724.20Z" fill="#a370e0"/>
<path d="M632.03 708.58L635.45 712.00L632.03 715.42L628.61 712.00Z" fill="#a370e0"/>
<path d="M637.60 700.08L641.02 703.50L637.60 706.92L634.18 703.50Z" fill="#a370e0"/>
<path d="M642.51 687.88L645.93 691.30L642.51 694.72L639.09 691.30Z" fill="#a370e0"/>
<path d="M646.90 681.18L650.32 684.60L646.90 688.02L643.48 684.60Z" fill="#a370e0"/>
<path d="M650.87 673.38L654.29 676.80L650.87 680.22L647.45 676.80Z" fill="#a370e0"/>
<path d="M654.50 664.48L657.92 667.90L654.50 671.32L651.08 667.90Z" fill="#a370e0"/>
<path d="M657.84 657.78L661.26 661.20L657.84 664.62L654.42 661.20Z" fill="#a370e0"/>
<path d="M660.93 647.78L664.35 651.20L660.93 654.62L657.51 651.20Z" fill="#a370e0"/>
<path d="M663.81 643.38L667.23 646.80L663.81 650.22L660.39 646.80Z" fill="#a370e0"/>
<path d="M666.50 633.28L669.92 636.70L666.50 640.12L663.08 636.70Z" fill="#a370e0"/>
<path d="M669.02 629.98L672.44 633.40L669.02 636.82L665.60 633.40Z" fill="#a370e0"/>
<path d="M671.41 623.28L674.83 626.70L671.41 630.12L667.99 626.70Z" fill="#a370e0"/>
<path d="M673.66 618.88L677.08 622.30L673.66 625.72L670.24 622.30Z" fill="#a370e0"/>
<path d="M675.80 615.48L679.22 618.90L675.80 622.32L672.38 618.90Z" fill="#a370e0"/>
<line x1="433.6" y1="840.1" x2="579.6" y2="800.6" stroke="#333333" stroke-width="1.0"/>
<line x1="575.2" y1="806.8" x2="676" y2="731" stroke="#333333" stroke-width="1.0"/>
<path d="M433.60 828.30L531.00 804.10L560.00 796.60L590.00 781.50L620.00 764.30L648.00 745.00L674.60 721.20" fill="none" stroke="#ee3333" stroke-width="1.0" stroke-linejoin="round"/>
<path d="M433.60 822.70L531.00 787.20L579.60 768.00" fill="none" stroke="#33dd33" stroke-width="1.0" stroke-linejoin="round"/>
<line x1="575.6" y1="775.7" x2="676" y2="700" stroke="#2e9a40" stroke-width="1.0"/>
<path d="M433.60 822.70L531.00 784.60L579.20 760.00" fill="none" stroke="#9a4ff0" stroke-width="1.0" stroke-linejoin="round"/>
<line x1="575.2" y1="810.4" x2="677" y2="620" stroke="#8a3ff0" stroke-width="1.0"/>
<rect x="411.70" y="602.80" width="284.10" height="242.80" fill="none" stroke="#000" stroke-width="2.0"/>
<path d="M416.70 845.60v-2.60M433.60 845.60v-2.60M445.60 845.60v-2.60M454.90 845.60v-2.60M462.50 845.60v-2.60M468.93 845.60v-2.60M474.50 845.60v-2.60M479.41 845.60v-2.60M483.80 845.60v-5.00M512.70 845.60v-2.60M529.60 845.60v-2.60M541.60 845.60v-2.60M550.90 845.60v-2.60M558.50 845.60v-2.60M564.93 845.60v-2.60M570.50 845.60v-2.60M575.41 845.60v-2.60M579.80 845.60v-5.00M608.70 845.60v-2.60M625.60 845.60v-2.60M637.60 845.60v-2.60M646.90 845.60v-2.60M654.50 845.60v-2.60M660.93 845.60v-2.60M666.50 845.60v-2.60M671.41 845.60v-2.60M675.80 845.60v-5.00M411.70 825.85h2.60M411.70 809.19h2.60M411.70 797.37h2.60M411.70 788.20h5.00M411.70 759.72h2.60M411.70 731.25h2.60M411.70 714.59h2.60M411.70 702.77h2.60M411.70 693.60h5.00M411.70 665.12h2.60M411.70 636.65h2.60M411.70 619.99h2.60M411.70 608.17h2.60" stroke="#000" stroke-width="1.2" fill="none"/>
<text x="484.10" y="863.70" font-size="16" text-anchor="middle">1</text>
<text x="580.10" y="863.70" font-size="16" text-anchor="middle">10</text>
<text x="676.10" y="863.70" font-size="16" text-anchor="middle">100</text>
<text x="397.10" y="699.20" font-size="16" text-anchor="end">10</text>
<text x="397.30" y="693.40" font-size="11.2">-5</text>
<text x="397.10" y="793.80" font-size="16" text-anchor="end">10</text>
<text x="397.30" y="788.00" font-size="11.2">-6</text>
<text x="493.00" y="891.7" font-size="20" textLength="121.10" lengthAdjust="spacingAndGlyphs">Voltage, <tspan font-style="italic">V</tspan> (V)</text>
<text transform="translate(371.8,827.10) rotate(-90)" font-size="21.60" textLength="206.10" lengthAdjust="spacingAndGlyphs">Current density, <tspan font-style="italic">J</tspan>(Am<tspan font-size="14.3" dy="-8.21">-2</tspan><tspan dy="8.21">)</tspan></text>
<text x="622.8" y="627.6" font-size="20" text-anchor="middle">(f)</text>
<rect x="437.22" y="615.92" width="5.15" height="5.15" fill="#4a4a4a"/>
<text x="462.30" y="623.80" font-size="15">PPMA</text>
<circle cx="439.80" cy="638.30" r="2.80" fill="#ee3333"/>
<text x="462.30" y="643.40" font-size="15">PP(MA-VA)(3:1)</text>
<path d="M439.80 654.28L443.02 659.88H436.58Z" fill="#1a66dd"/>
<text x="462.30" y="662.70" font-size="15">PP(MA-VA)(1:1)</text>
<path d="M439.80 680.72L443.02 675.12H436.58Z" fill="#33a35a"/>
<text x="462.30" y="682.30" font-size="15">PP(MA-VA)(1:3)</text>
<path d="M439.80 693.74L443.16 697.10L439.80 700.46L436.44 697.10Z" fill="#a370e0"/>
<text x="462.30" y="701.10" font-size="15">PPVA</text>
<text x="636.2" y="816.6" font-size="16">298 k</text>
</svg></body></html>
